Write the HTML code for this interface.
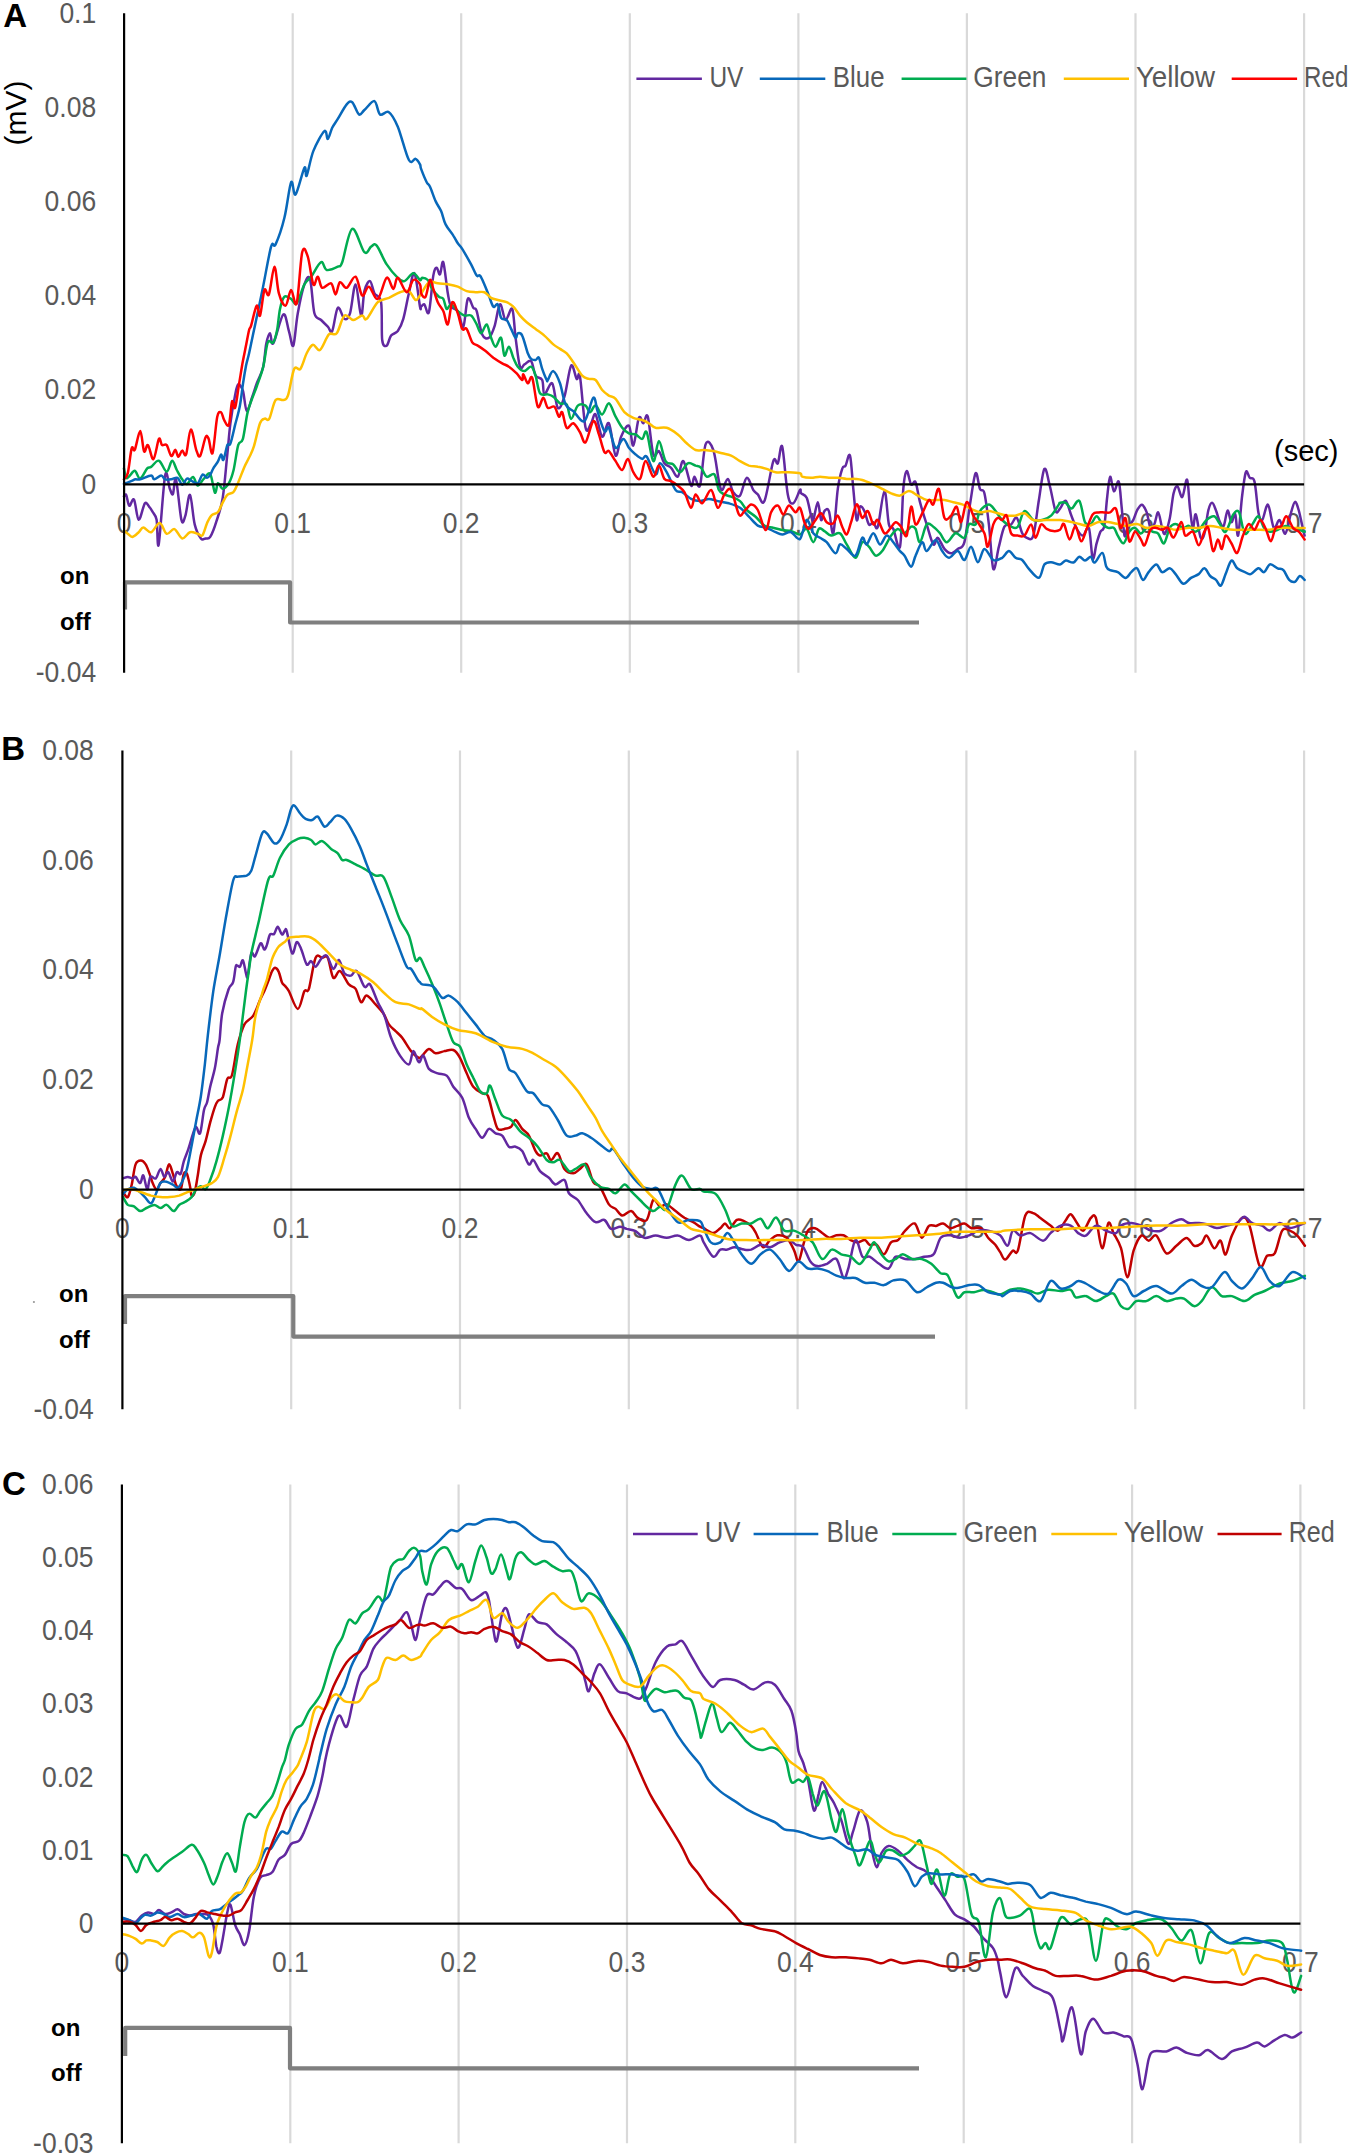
<!DOCTYPE html><html><head><meta charset="utf-8"><style>html,body{margin:0;padding:0;background:#fff;}svg{display:block;}</style></head><body>
<svg width="1350" height="2156" viewBox="0 0 1350 2156" font-family='"Liberation Sans", sans-serif'>
<rect width="1350" height="2156" fill="#fff"/>
<line x1="292.7" y1="13.3" x2="292.7" y2="672.7" stroke="#D9D9D9" stroke-width="2.2"/>
<line x1="461.2" y1="13.3" x2="461.2" y2="672.7" stroke="#D9D9D9" stroke-width="2.2"/>
<line x1="629.8" y1="13.3" x2="629.8" y2="672.7" stroke="#D9D9D9" stroke-width="2.2"/>
<line x1="798.4" y1="13.3" x2="798.4" y2="672.7" stroke="#D9D9D9" stroke-width="2.2"/>
<line x1="966.9" y1="13.3" x2="966.9" y2="672.7" stroke="#D9D9D9" stroke-width="2.2"/>
<line x1="1135.5" y1="13.3" x2="1135.5" y2="672.7" stroke="#D9D9D9" stroke-width="2.2"/>
<line x1="1304.1" y1="13.3" x2="1304.1" y2="672.7" stroke="#D9D9D9" stroke-width="2.2"/>
<text x="96.2" y="22.6" text-anchor="end" font-size="28.8" fill="#595959" textLength="36.8" lengthAdjust="spacingAndGlyphs">0.1</text>
<text x="96.2" y="116.8" text-anchor="end" font-size="28.8" fill="#595959" textLength="51.6" lengthAdjust="spacingAndGlyphs">0.08</text>
<text x="96.2" y="211.0" text-anchor="end" font-size="28.8" fill="#595959" textLength="51.6" lengthAdjust="spacingAndGlyphs">0.06</text>
<text x="96.2" y="305.2" text-anchor="end" font-size="28.8" fill="#595959" textLength="51.6" lengthAdjust="spacingAndGlyphs">0.04</text>
<text x="96.2" y="399.4" text-anchor="end" font-size="28.8" fill="#595959" textLength="51.6" lengthAdjust="spacingAndGlyphs">0.02</text>
<text x="96.2" y="493.6" text-anchor="end" font-size="28.8" fill="#595959" textLength="14.7" lengthAdjust="spacingAndGlyphs">0</text>
<text x="96.2" y="682.0" text-anchor="end" font-size="28.8" fill="#595959" textLength="60.4" lengthAdjust="spacingAndGlyphs">-0.04</text>
<text x="124.1" y="532.8" text-anchor="middle" font-size="28.8" fill="#595959" textLength="14.7" lengthAdjust="spacingAndGlyphs">0</text>
<text x="292.7" y="532.8" text-anchor="middle" font-size="28.8" fill="#595959" textLength="36.8" lengthAdjust="spacingAndGlyphs">0.1</text>
<text x="461.2" y="532.8" text-anchor="middle" font-size="28.8" fill="#595959" textLength="36.8" lengthAdjust="spacingAndGlyphs">0.2</text>
<text x="629.8" y="532.8" text-anchor="middle" font-size="28.8" fill="#595959" textLength="36.8" lengthAdjust="spacingAndGlyphs">0.3</text>
<text x="798.4" y="532.8" text-anchor="middle" font-size="28.8" fill="#595959" textLength="36.8" lengthAdjust="spacingAndGlyphs">0.4</text>
<text x="966.9" y="532.8" text-anchor="middle" font-size="28.8" fill="#595959" textLength="36.8" lengthAdjust="spacingAndGlyphs">0.5</text>
<text x="1135.5" y="532.8" text-anchor="middle" font-size="28.8" fill="#595959" textLength="36.8" lengthAdjust="spacingAndGlyphs">0.6</text>
<text x="1304.1" y="532.8" text-anchor="middle" font-size="28.8" fill="#595959" textLength="36.8" lengthAdjust="spacingAndGlyphs">0.7</text>
<text x="3.3" y="27.4" font-size="33" font-weight="bold" fill="#000">A</text>
<path d="M125.0,609.4 V582.3 H290.1 V622.5 H919.0" fill="none" stroke="#7F7F7F" stroke-width="4.2" stroke-linejoin="round"/>
<text x="60.0" y="584.4" font-size="24" font-weight="bold" fill="#000">on</text>
<text x="60.0" y="630.2" font-size="24" font-weight="bold" fill="#000">off</text>
<line x1="636.4" y1="78.8" x2="701.9" y2="78.8" stroke="#6228A0" stroke-width="2.5"/>
<text x="709.4" y="87.2" font-size="28.8" fill="#595959" textLength="34.0" lengthAdjust="spacingAndGlyphs">UV</text>
<line x1="759.8" y1="78.8" x2="825.3" y2="78.8" stroke="#0868BA" stroke-width="2.5"/>
<text x="832.8" y="87.2" font-size="28.8" fill="#595959" textLength="51.7" lengthAdjust="spacingAndGlyphs">Blue</text>
<line x1="901.6" y1="78.8" x2="966.4" y2="78.8" stroke="#00AC50" stroke-width="2.5"/>
<text x="973.3" y="87.2" font-size="28.8" fill="#595959" textLength="73.1" lengthAdjust="spacingAndGlyphs">Green</text>
<line x1="1063.8" y1="78.8" x2="1129.0" y2="78.8" stroke="#FFC000" stroke-width="2.5"/>
<text x="1135.9" y="87.2" font-size="28.8" fill="#595959" textLength="79.1" lengthAdjust="spacingAndGlyphs">Yellow</text>
<line x1="1231.7" y1="78.8" x2="1297.1" y2="78.8" stroke="#FF0000" stroke-width="2.5"/>
<text x="1304.1" y="87.2" font-size="28.8" fill="#595959" textLength="44.2" lengthAdjust="spacingAndGlyphs">Red</text>
<text x="1274" y="461" font-size="29" fill="#000">(sec)</text>
<text transform="translate(26.1,113) rotate(-90)" text-anchor="middle" font-size="30" fill="#000">(mV)</text>
<path d="M123.9,496.4C124.3,496.2 125.3,493.3 126.2,494.9C127.1,496.4 128.0,505.0 129.3,505.8C130.6,506.6 132.4,497.2 134.0,499.6C135.6,501.9 136.9,519.1 138.7,519.8C140.5,520.4 143.1,505.5 144.9,503.4C146.7,501.4 148.3,505.9 149.6,507.3C150.9,508.8 151.5,509.9 152.7,512.0C153.8,514.1 155.5,514.4 156.6,519.8C157.6,525.2 157.3,551.7 158.7,544.4C160.2,537.0 163.3,484.7 165.1,475.4C167.0,466.2 168.5,485.6 169.8,488.7C171.1,491.8 171.9,495.7 172.9,494.1C173.9,492.6 174.6,475.1 176.0,479.3C177.4,483.6 179.9,513.7 181.4,519.8C183.0,525.9 183.9,520.0 185.3,515.9C186.8,511.7 188.4,493.5 190.0,494.9C191.6,496.3 192.9,517.2 194.7,524.4C196.5,531.7 199.1,536.1 200.9,538.4C202.7,540.8 204.0,538.7 205.6,538.4C207.1,538.2 208.4,539.7 210.2,536.9C212.0,534.0 214.4,527.8 216.4,521.3C218.5,514.9 220.9,509.1 222.7,498.0C224.5,486.9 226.0,466.9 227.3,454.4C228.6,442.0 229.1,433.2 230.4,423.3C231.7,413.5 233.8,401.8 235.1,395.3C236.4,388.9 236.9,385.2 238.2,384.4C239.5,383.7 241.5,386.3 242.9,390.7C244.3,395.1 245.2,409.9 246.8,410.9C248.3,411.9 250.5,401.6 252.2,396.9C253.9,392.2 255.1,387.8 256.9,382.9C258.7,378.0 261.6,373.8 263.1,367.3C264.7,360.9 265.1,349.7 266.2,344.0C267.4,338.3 268.8,333.4 270.0,333.3C271.2,333.2 271.1,346.5 273.3,343.3C275.6,340.2 280.7,316.5 283.3,314.4C285.9,312.4 287.2,325.9 288.9,331.1C290.6,336.3 291.9,348.5 293.3,345.6C294.8,342.6 295.9,323.5 297.8,313.3C299.6,303.1 302.4,290.2 304.4,284.4C306.5,278.7 308.3,274.1 310.0,278.9C311.7,283.7 312.6,306.5 314.4,313.3C316.3,320.2 318.9,317.8 321.1,320.0C323.3,322.2 325.9,324.8 327.8,326.7C329.6,328.5 330.6,334.3 332.2,331.1C333.9,328.0 335.7,309.8 337.8,307.8C339.8,305.7 342.4,318.0 344.4,318.9C346.5,319.8 348.1,319.1 350.0,313.3C351.9,307.6 353.7,284.1 355.6,284.4C357.4,284.8 359.6,314.4 361.1,315.6C362.6,316.7 363.0,296.9 364.4,291.1C365.9,285.4 368.3,280.7 370.0,281.1C371.7,281.5 372.6,289.8 374.4,293.3C376.3,296.9 379.8,294.4 381.1,302.2C382.4,310.0 381.3,332.8 382.2,340.0C383.1,347.2 385.2,346.3 386.7,345.6C388.1,344.8 389.3,338.0 391.1,335.6C393.0,333.1 395.7,333.9 397.8,331.1C399.8,328.3 401.5,325.2 403.3,318.9C405.2,312.6 407.0,300.9 408.9,293.3C410.7,285.7 412.6,271.1 414.4,273.3C416.3,275.6 418.9,301.1 420.0,306.7C421.1,312.2 420.4,307.0 421.1,306.7C421.9,306.3 423.1,303.5 424.4,304.4C425.7,305.4 427.4,317.0 428.9,312.2C430.4,307.4 432.0,283.0 433.3,275.6C434.6,268.1 435.6,268.0 436.7,267.8C437.8,267.6 438.9,275.4 440.0,274.4C441.1,273.5 442.0,259.1 443.3,262.2C444.6,265.4 446.5,285.9 447.8,293.3C449.1,300.7 449.4,303.7 451.1,306.7C452.8,309.6 455.7,307.8 457.8,311.1C459.8,314.4 461.7,328.7 463.3,326.7C465.0,324.6 466.1,302.0 467.8,298.9C469.4,295.7 471.9,305.7 473.3,307.8C474.8,309.8 475.2,306.7 476.7,311.1C478.1,315.6 480.2,330.0 482.2,334.4C484.3,338.9 486.9,339.1 488.9,337.8C490.9,336.5 492.6,332.2 494.4,326.7C496.3,321.1 498.1,305.6 500.0,304.4C501.9,303.3 503.5,319.3 505.6,320.0C507.6,320.7 510.6,305.9 512.2,308.9C513.9,311.9 514.3,328.1 515.6,337.8C516.9,347.4 518.5,362.2 520.0,366.7C521.5,371.1 522.6,365.4 524.4,364.4C526.3,363.5 529.3,359.3 531.1,361.1C533.0,363.0 533.7,372.4 535.6,375.6C537.4,378.7 540.7,376.9 542.2,380.0C543.7,383.1 542.8,393.9 544.4,394.4C546.1,395.0 550.0,381.1 552.2,383.3C554.4,385.6 555.7,405.6 557.8,407.8C559.8,410.0 562.2,403.7 564.4,396.7C566.7,389.6 569.1,368.5 571.1,365.6C573.1,362.6 575.2,377.0 576.7,378.9C578.1,380.7 578.5,368.5 580.0,376.7C581.5,384.8 583.7,420.0 585.6,427.8C587.4,435.6 589.4,425.6 591.1,423.3C592.8,421.1 593.7,412.2 595.6,414.4C597.4,416.7 600.0,435.2 602.2,436.7C604.4,438.1 606.7,420.2 608.9,423.3C611.1,426.5 613.5,453.3 615.6,455.6C617.6,457.8 618.9,441.7 621.1,436.7C623.3,431.7 626.9,424.1 628.9,425.6C630.9,427.0 631.7,446.9 633.3,445.6C635.0,444.3 637.2,421.5 638.9,417.8C640.6,414.1 641.9,423.5 643.3,423.3C644.8,423.1 646.1,411.5 647.8,416.7C649.4,421.9 651.5,448.7 653.3,454.4C655.2,460.2 657.0,449.6 658.9,451.1C660.7,452.6 662.4,460.6 664.4,463.3C666.5,466.1 668.9,465.6 671.1,467.8C673.3,470.0 675.7,477.8 677.8,476.7C679.8,475.6 681.1,459.6 683.3,461.1C685.6,462.6 689.3,483.0 691.1,485.6C693.0,488.1 693.0,476.7 694.4,476.7C695.9,476.7 698.1,490.9 700.0,485.6C701.9,480.2 703.3,450.4 705.6,444.4C707.8,438.5 711.1,443.9 713.3,450.0C715.6,456.1 717.4,474.4 718.9,481.1C720.4,487.8 720.7,490.4 722.2,490.0C723.7,489.6 725.9,478.5 727.8,478.9C729.6,479.3 731.3,489.4 733.3,492.2C735.4,495.0 737.8,498.0 740.0,495.6C742.2,493.1 744.4,478.7 746.7,477.8C748.9,476.9 751.5,487.2 753.3,490.0C755.2,492.8 755.9,492.6 757.8,494.4C759.6,496.3 761.9,506.7 764.4,501.1C767.0,495.6 771.1,467.4 773.3,461.1C775.6,454.8 776.3,465.7 777.8,463.3C779.3,460.9 780.6,441.5 782.2,446.7C783.9,451.9 785.9,485.0 787.8,494.4C789.6,503.9 791.3,504.1 793.3,503.3C795.4,502.6 798.7,491.7 800.0,490.0C801.3,488.3 800.0,492.0 801.1,493.3C802.2,494.6 805.0,494.1 806.7,497.8C808.3,501.5 810.0,511.9 811.1,515.6C812.2,519.3 812.2,522.2 813.3,520.0C814.4,517.8 816.5,502.2 817.8,502.2C819.1,502.2 820.0,518.5 821.1,520.0C822.2,521.5 823.1,512.6 824.4,511.1C825.7,509.6 827.4,507.4 828.9,511.1C830.4,514.8 831.9,537.0 833.3,533.3C834.8,529.6 836.3,499.6 837.8,488.9C839.3,478.1 840.9,472.8 842.2,468.9C843.5,465.0 844.3,467.8 845.6,465.6C846.9,463.3 848.7,451.7 850.0,455.6C851.3,459.4 852.2,478.1 853.3,488.9C854.4,499.6 855.6,517.0 856.7,520.0C857.8,523.0 858.7,508.1 860.0,506.7C861.3,505.2 863.0,508.1 864.4,511.1C865.9,514.1 867.4,522.6 868.9,524.4C870.4,526.3 871.9,521.9 873.3,522.2C874.8,522.6 875.9,531.9 877.8,526.7C879.6,521.5 882.6,491.5 884.4,491.1C886.3,490.7 887.4,518.1 888.9,524.4C890.4,530.7 891.5,525.2 893.3,528.9C895.2,532.6 898.3,553.3 900.0,546.7C901.7,540.0 902.2,501.5 903.3,488.9C904.4,476.3 905.4,471.9 906.7,471.1C908.0,470.4 909.6,482.6 911.1,484.4C912.6,486.3 914.1,479.3 915.6,482.2C917.0,485.2 918.1,495.2 920.0,502.2C921.9,509.3 924.4,517.4 926.7,524.4C928.9,531.5 931.5,542.2 933.3,544.4C935.2,546.7 935.9,537.0 937.8,537.8C939.6,538.5 942.2,546.3 944.4,548.9C946.7,551.5 948.9,553.3 951.1,553.3C953.3,553.3 955.6,550.7 957.8,548.9C960.0,547.0 962.4,549.6 964.4,542.2C966.5,534.8 968.1,515.9 970.0,504.4C971.9,493.0 973.9,475.9 975.6,473.3C977.2,470.7 978.5,485.6 980.0,488.9C981.5,492.2 983.0,487.4 984.4,493.3C985.9,499.3 987.4,511.9 988.9,524.4C990.4,537.0 991.7,565.2 993.3,568.9C995.0,572.6 997.0,553.7 998.9,546.7C1000.7,539.6 1002.4,530.4 1004.4,526.7C1006.5,523.0 1009.1,525.9 1011.1,524.4C1013.1,523.0 1014.8,516.3 1016.7,517.8C1018.5,519.3 1020.6,530.0 1022.2,533.3C1023.9,536.7 1024.8,537.4 1026.7,537.8C1028.5,538.1 1031.3,541.9 1033.3,535.6C1035.4,529.3 1037.0,511.1 1038.9,500.0C1040.7,488.9 1042.6,471.1 1044.4,468.9C1046.3,466.7 1048.1,479.6 1050.0,486.7C1051.9,493.7 1053.9,507.5 1055.6,511.1C1057.2,514.8 1058.3,510.3 1060.0,508.6C1061.7,506.9 1063.9,499.6 1065.8,500.9C1067.7,502.2 1069.6,511.5 1071.6,516.3C1073.5,521.1 1075.4,526.6 1077.3,529.8C1079.3,533.0 1081.2,535.9 1083.1,535.6C1085.0,535.2 1087.3,524.0 1088.9,527.9C1090.5,531.7 1091.5,556.1 1092.7,558.7C1094.0,561.2 1095.3,547.8 1096.6,543.3C1097.9,538.8 1099.2,534.6 1100.4,531.7C1101.7,528.8 1103.2,531.7 1104.3,525.9C1105.4,520.1 1106.2,505.2 1107.2,497.0C1108.1,488.9 1109.0,477.8 1110.1,476.8C1111.2,475.9 1112.5,490.5 1113.9,491.3C1115.4,492.1 1117.5,479.1 1118.7,481.6C1120.0,484.2 1120.7,497.7 1121.6,506.7C1122.6,515.7 1123.6,532.0 1124.5,535.6C1125.5,539.1 1126.0,530.4 1127.4,527.9C1128.9,525.3 1131.6,523.0 1133.2,520.1C1134.8,517.3 1135.6,513.1 1137.0,510.5C1138.5,508.0 1140.2,504.4 1141.9,504.7C1143.5,505.1 1145.2,508.6 1146.7,512.4C1148.1,516.3 1149.2,525.9 1150.5,527.9C1151.8,529.8 1153.1,526.6 1154.4,524.0C1155.7,521.4 1156.9,511.8 1158.2,512.4C1159.5,513.1 1161.0,524.3 1162.1,527.9C1163.2,531.4 1163.7,535.2 1165.0,533.6C1166.2,532.0 1168.3,525.0 1169.8,518.2C1171.2,511.5 1172.3,498.5 1173.6,493.2C1174.9,487.9 1176.0,485.8 1177.5,486.4C1178.9,487.1 1180.7,498.2 1182.3,497.0C1183.9,495.9 1185.8,477.8 1187.1,479.7C1188.4,481.6 1189.0,500.6 1190.0,508.6C1191.0,516.6 1191.9,526.9 1192.9,527.9C1193.9,528.8 1194.5,512.8 1195.8,514.4C1197.1,516.0 1199.1,534.3 1200.6,537.5C1202.0,540.7 1203.2,538.1 1204.4,533.6C1205.7,529.1 1207.0,515.7 1208.3,510.5C1209.6,505.4 1210.9,502.8 1212.1,502.8C1213.4,502.8 1214.7,507.3 1216.0,510.5C1217.3,513.7 1218.6,519.5 1219.9,522.1C1221.1,524.6 1222.4,527.9 1223.7,525.9C1225.0,524.0 1226.3,511.2 1227.6,510.5C1228.8,509.9 1230.1,521.4 1231.4,522.1C1232.7,522.7 1234.1,512.1 1235.3,514.4C1236.4,516.6 1237.0,538.4 1238.1,535.6C1239.3,532.7 1240.7,507.6 1242.0,497.0C1243.3,486.4 1244.6,475.2 1245.9,472.0C1247.1,468.8 1248.3,476.2 1249.7,477.8C1251.1,479.4 1253.1,475.9 1254.5,481.6C1256.0,487.4 1257.1,506.0 1258.4,512.4C1259.7,518.9 1260.6,521.4 1262.2,520.1C1263.8,518.9 1266.1,503.5 1268.0,504.7C1269.9,506.0 1271.9,525.3 1273.8,527.9C1275.7,530.4 1277.6,519.2 1279.6,520.1C1281.5,521.1 1283.4,534.9 1285.3,533.6C1287.3,532.3 1289.5,517.7 1291.1,512.4C1292.7,507.1 1293.7,502.2 1295.0,501.9C1296.2,501.5 1297.5,506.2 1298.8,510.5C1300.1,514.9 1301.7,523.7 1302.7,527.9C1303.6,532.0 1304.3,534.3 1304.6,535.6" fill="none" stroke="#6228A0" stroke-width="2.5" stroke-linejoin="round" stroke-linecap="round"/>
<path d="M123.9,468.4C124.3,470.0 125.3,476.5 126.2,477.8C127.1,479.1 127.9,477.4 129.3,476.2C130.8,475.1 133.0,470.4 134.8,470.8C136.6,471.2 138.1,478.9 140.2,478.6C142.3,478.2 145.4,470.4 147.2,468.4C149.0,466.5 149.2,468.2 151.1,466.9C153.1,465.6 156.3,459.9 158.9,460.7C161.5,461.4 164.5,471.6 166.7,471.6C168.9,471.6 170.4,460.9 172.1,460.7C173.8,460.4 175.1,466.9 176.8,470.0C178.5,473.1 180.5,477.0 182.2,479.3C183.9,481.7 185.1,484.4 186.9,484.0C188.7,483.6 191.3,476.7 193.1,477.0C194.9,477.3 196.0,485.3 197.8,485.6C199.6,485.8 201.9,480.5 204.0,478.6C206.1,476.6 208.4,471.6 210.2,473.9C212.0,476.2 213.6,491.0 214.9,492.6C216.2,494.1 216.7,483.9 218.0,483.2C219.3,482.6 220.9,488.7 222.7,488.7C224.5,488.7 227.1,486.3 228.9,483.2C230.7,480.1 232.0,476.4 233.6,470.0C235.1,463.6 236.7,450.3 238.2,445.1C239.8,439.9 241.3,444.3 242.9,438.9C244.4,433.4 246.0,419.2 247.6,412.4C249.1,405.7 250.7,402.9 252.2,398.4C253.8,394.0 255.1,391.2 256.9,386.0C258.7,380.8 261.3,374.6 263.1,367.3C264.9,360.1 266.1,346.6 267.8,342.4C269.5,338.3 271.7,344.5 273.2,342.4C274.8,340.4 276.0,335.6 277.1,330.0C278.2,324.4 278.8,314.4 280.0,308.9C281.2,303.3 282.6,298.3 284.4,296.7C286.3,295.0 289.1,297.8 291.1,298.9C293.1,300.0 294.4,305.7 296.7,303.3C298.9,300.9 302.0,288.9 304.4,284.4C306.9,280.0 308.3,280.4 311.1,276.7C313.9,273.0 318.5,263.3 321.1,262.2C323.7,261.1 323.9,269.3 326.7,270.0C329.4,270.7 335.2,268.0 337.8,266.7C340.4,265.4 339.8,268.5 342.2,262.2C344.6,255.9 348.5,230.6 352.2,228.9C355.9,227.2 361.3,249.3 364.4,252.2C367.6,255.2 369.1,247.8 371.1,246.7C373.1,245.6 374.1,242.6 376.7,245.6C379.3,248.5 383.1,259.1 386.7,264.4C390.2,269.8 394.8,275.0 397.8,277.8C400.7,280.6 401.9,281.9 404.4,281.1C407.0,280.4 410.7,273.5 413.3,273.3C415.9,273.1 418.5,279.3 420.0,280.0C421.5,280.7 420.9,277.8 422.2,277.8C423.5,277.8 426.1,278.1 427.8,280.0C429.4,281.9 430.4,286.1 432.2,288.9C434.1,291.7 437.0,295.0 438.9,296.7C440.7,298.3 442.0,296.9 443.3,298.9C444.6,300.9 445.4,308.0 446.7,308.9C448.0,309.8 449.3,304.1 451.1,304.4C453.0,304.8 455.6,309.3 457.8,311.1C460.0,313.0 462.2,314.8 464.4,315.6C466.7,316.3 469.1,314.1 471.1,315.6C473.1,317.0 475.0,321.5 476.7,324.4C478.3,327.4 479.4,333.3 481.1,333.3C482.8,333.3 485.0,323.7 486.7,324.4C488.3,325.2 489.6,334.1 491.1,337.8C492.6,341.5 493.9,346.7 495.6,346.7C497.2,346.7 499.6,336.3 501.1,337.8C502.6,339.3 503.1,354.1 504.4,355.6C505.7,357.0 507.4,346.3 508.9,346.7C510.4,347.0 511.9,354.4 513.3,357.8C514.8,361.1 515.9,364.4 517.8,366.7C519.6,368.9 522.2,371.1 524.4,371.1C526.7,371.1 529.3,365.9 531.1,366.7C533.0,367.4 534.1,371.1 535.6,375.6C537.0,380.0 538.0,390.2 540.0,393.3C542.0,396.5 545.6,393.9 547.8,394.4C550.0,395.0 551.3,395.2 553.3,396.7C555.4,398.1 557.8,402.0 560.0,403.3C562.2,404.6 564.8,401.9 566.7,404.4C568.5,407.0 569.3,418.7 571.1,418.9C573.0,419.1 575.4,407.8 577.8,405.6C580.2,403.3 583.5,404.4 585.6,405.6C587.6,406.7 588.3,412.2 590.0,412.2C591.7,412.2 593.5,405.2 595.6,405.6C597.6,405.9 600.0,414.8 602.2,414.4C604.4,414.1 606.7,403.0 608.9,403.3C611.1,403.7 613.3,412.6 615.6,416.7C617.8,420.7 620.0,425.0 622.2,427.8C624.4,430.6 626.7,432.2 628.9,433.3C631.1,434.4 633.3,433.5 635.6,434.4C637.8,435.4 640.4,439.3 642.2,438.9C644.1,438.5 644.8,428.5 646.7,432.2C648.5,435.9 651.3,459.6 653.3,461.1C655.4,462.6 656.9,441.1 658.9,441.1C660.9,441.1 663.1,457.2 665.6,461.1C668.0,465.0 670.9,462.6 673.3,464.4C675.7,466.3 677.6,472.4 680.0,472.2C682.4,472.0 685.2,464.4 687.8,463.3C690.4,462.2 693.3,464.8 695.6,465.6C697.8,466.3 699.3,465.9 701.1,467.8C703.0,469.6 704.4,475.6 706.7,476.7C708.9,477.8 712.4,472.2 714.4,474.4C716.5,476.7 717.2,486.7 718.9,490.0C720.6,493.3 722.4,493.3 724.4,494.4C726.5,495.6 728.5,495.6 731.1,496.7C733.7,497.8 737.4,498.9 740.0,501.1C742.6,503.3 744.1,507.4 746.7,510.0C749.3,512.6 752.6,514.1 755.6,516.7C758.5,519.3 761.5,523.7 764.4,525.6C767.4,527.4 770.4,527.0 773.3,527.8C776.3,528.5 779.3,529.4 782.2,530.0C785.2,530.6 788.1,530.4 791.1,531.1C794.1,531.9 797.4,534.8 800.0,534.4C802.6,534.1 804.4,527.6 806.7,528.9C808.9,530.2 811.3,542.2 813.3,542.2C815.4,542.2 817.0,530.7 818.9,528.9C820.7,527.0 822.4,530.0 824.4,531.1C826.5,532.2 828.5,535.2 831.1,535.6C833.7,535.9 837.4,531.9 840.0,533.3C842.6,534.8 844.1,540.4 846.7,544.4C849.3,548.5 853.0,558.1 855.6,557.8C858.1,557.4 860.0,544.1 862.2,542.2C864.4,540.4 866.7,544.4 868.9,546.7C871.1,548.9 873.3,554.8 875.6,555.6C877.8,556.3 879.6,554.4 882.2,551.1C884.8,547.8 888.5,539.3 891.1,535.6C893.7,531.9 895.6,529.3 897.8,528.9C900.0,528.5 902.2,533.7 904.4,533.3C906.7,533.0 909.3,527.4 911.1,526.7C913.0,525.9 914.1,526.3 915.6,528.9C917.0,531.5 918.1,543.0 920.0,542.2C921.9,541.5 924.4,527.0 926.7,524.4C928.9,521.9 931.1,525.2 933.3,526.7C935.6,528.1 937.8,530.7 940.0,533.3C942.2,535.9 944.1,542.2 946.7,542.2C949.3,542.2 952.6,534.1 955.6,533.3C958.5,532.6 962.2,539.3 964.4,537.8C966.7,536.3 967.0,526.7 968.9,524.4C970.7,522.2 973.7,526.7 975.6,524.4C977.4,522.2 977.8,514.4 980.0,511.1C982.2,507.8 986.3,504.4 988.9,504.4C991.5,504.4 993.3,508.5 995.6,511.1C997.8,513.7 999.6,517.4 1002.2,520.0C1004.8,522.6 1008.5,525.6 1011.1,526.7C1013.7,527.8 1015.6,529.3 1017.8,526.7C1020.0,524.1 1021.9,512.2 1024.4,511.1C1027.0,510.0 1030.4,518.5 1033.3,520.0C1036.3,521.5 1039.3,520.7 1042.2,520.0C1045.2,519.3 1048.3,518.1 1051.1,515.6C1053.9,513.0 1057.4,506.6 1058.9,504.4C1060.4,502.3 1058.9,503.1 1060.0,502.8C1061.1,502.5 1063.9,501.9 1065.8,502.8C1067.7,503.8 1069.3,508.9 1071.6,508.6C1073.8,508.3 1077.0,498.6 1079.3,500.9C1081.5,503.1 1083.1,518.2 1085.0,522.1C1087.0,525.9 1088.9,525.0 1090.8,524.0C1092.7,523.0 1094.7,516.3 1096.6,516.3C1098.5,516.3 1100.4,522.1 1102.4,524.0C1104.3,525.9 1106.2,527.2 1108.1,527.9C1110.1,528.5 1112.3,526.6 1113.9,527.9C1115.5,529.1 1116.2,533.0 1117.8,535.6C1119.4,538.1 1121.6,543.9 1123.6,543.3C1125.5,542.6 1127.4,534.3 1129.3,531.7C1131.3,529.1 1133.2,527.5 1135.1,527.9C1137.0,528.2 1139.0,533.6 1140.9,533.6C1142.8,533.6 1144.7,528.2 1146.7,527.9C1148.6,527.5 1150.5,530.7 1152.4,531.7C1154.4,532.7 1156.3,531.7 1158.2,533.6C1160.1,535.6 1162.1,544.2 1164.0,543.3C1165.9,542.3 1167.9,531.1 1169.8,527.9C1171.7,524.6 1173.3,524.0 1175.6,524.0C1177.8,524.0 1181.0,527.5 1183.3,527.9C1185.5,528.2 1187.1,525.3 1189.0,525.9C1191.0,526.6 1192.9,531.4 1194.8,531.7C1196.7,532.0 1198.7,529.8 1200.6,527.9C1202.5,525.9 1204.1,522.1 1206.4,520.1C1208.6,518.2 1211.8,515.7 1214.1,516.3C1216.3,516.9 1217.9,521.4 1219.9,524.0C1221.8,526.6 1223.4,533.3 1225.6,531.7C1227.9,530.1 1231.1,517.6 1233.3,514.4C1235.6,511.2 1237.2,509.2 1239.1,512.4C1241.0,515.7 1242.6,531.7 1244.9,533.6C1247.1,535.6 1250.3,526.9 1252.6,524.0C1254.8,521.1 1256.4,515.7 1258.4,516.3C1260.3,516.9 1262.2,525.3 1264.1,527.9C1266.1,530.4 1267.7,531.4 1269.9,531.7C1272.2,532.0 1275.1,530.7 1277.6,529.8C1280.2,528.8 1283.1,526.2 1285.3,525.9C1287.6,525.6 1288.9,527.2 1291.1,527.9C1293.4,528.5 1296.6,529.1 1298.8,529.8C1301.1,530.4 1303.6,531.4 1304.6,531.7" fill="none" stroke="#00AC50" stroke-width="2.5" stroke-linejoin="round" stroke-linecap="round"/>
<path d="M123.9,484.0C125.2,483.5 129.7,481.7 131.7,480.9C133.6,480.1 134.1,479.6 135.6,479.3C137.0,479.1 137.6,480.0 140.2,479.3C142.8,478.7 148.8,475.4 151.1,475.4C153.4,475.4 152.5,479.3 154.2,479.3C155.9,479.3 159.4,475.4 161.2,475.4C163.0,475.4 163.4,478.7 165.1,479.3C166.8,480.0 169.3,479.6 171.3,479.3C173.4,479.1 175.7,476.9 177.6,477.8C179.4,478.7 180.7,484.6 182.2,484.8C183.8,484.9 185.3,479.2 186.9,478.6C188.4,477.9 189.7,480.1 191.6,480.9C193.4,481.7 196.0,484.3 197.8,483.2C199.6,482.2 200.9,475.6 202.4,474.7C204.0,473.8 205.8,477.8 207.1,477.8C208.4,477.8 209.2,476.2 210.2,474.7C211.3,473.1 212.0,470.6 213.3,468.4C214.6,466.2 216.7,463.8 218.0,461.4C219.3,459.1 220.2,454.7 221.1,454.4C222.0,454.2 222.4,461.4 223.4,459.9C224.5,458.3 226.2,447.8 227.3,445.1C228.5,442.4 229.1,446.9 230.4,443.6C231.7,440.2 233.6,431.1 235.1,424.9C236.7,418.7 238.5,413.0 239.8,406.2C241.1,399.5 241.9,391.2 242.9,384.4C243.9,377.7 245.0,371.0 246.0,365.8C247.0,360.6 247.9,358.7 249.1,353.3C250.3,347.9 251.1,343.7 253.3,333.3C255.5,323.0 259.3,305.6 262.2,291.1C265.2,276.7 268.9,254.4 271.1,246.7C273.3,238.9 273.3,249.3 275.6,244.4C277.8,239.6 281.9,228.1 284.4,217.8C287.0,207.4 289.3,186.1 291.1,182.2C293.0,178.3 293.3,196.9 295.6,194.4C297.8,192.0 302.6,170.9 304.4,167.8C306.3,164.6 305.2,178.3 306.7,175.6C308.1,172.8 310.4,158.5 313.3,151.1C316.3,143.7 322.0,133.1 324.4,131.1C326.9,129.1 326.5,139.4 327.8,138.9C329.1,138.3 330.6,131.1 332.2,127.8C333.9,124.4 335.4,122.8 337.8,118.9C340.2,115.0 344.3,107.2 346.7,104.4C349.1,101.7 350.2,100.6 352.2,102.2C354.3,103.9 356.9,113.1 358.9,114.4C360.9,115.7 361.9,112.2 364.4,110.0C367.0,107.8 371.9,100.4 374.4,101.1C377.0,101.9 377.6,112.6 380.0,114.4C382.4,116.3 385.9,110.2 388.9,112.2C391.9,114.3 394.4,118.7 397.8,126.7C401.1,134.6 405.9,154.6 408.9,160.0C411.9,165.4 413.7,158.1 415.6,158.9C417.4,159.6 419.1,162.8 420.0,164.4C420.9,166.1 420.0,165.9 421.1,168.9C422.2,171.9 425.2,179.3 426.7,182.2C428.1,185.2 428.5,183.5 430.0,186.7C431.5,189.8 433.7,197.0 435.6,201.1C437.4,205.2 439.4,207.2 441.1,211.1C442.8,215.0 443.5,220.4 445.6,224.4C447.6,228.5 451.3,232.4 453.3,235.6C455.4,238.7 456.3,241.1 457.8,243.3C459.3,245.6 460.0,245.4 462.2,248.9C464.4,252.4 468.7,260.0 471.1,264.4C473.5,268.9 475.2,273.7 476.7,275.6C478.1,277.4 478.7,274.1 480.0,275.6C481.3,277.0 483.0,281.1 484.4,284.4C485.9,287.8 487.4,291.9 488.9,295.6C490.4,299.3 491.9,305.2 493.3,306.7C494.8,308.1 496.5,302.6 497.8,304.4C499.1,306.3 499.6,315.2 501.1,317.8C502.6,320.4 505.0,318.1 506.7,320.0C508.3,321.9 509.6,325.9 511.1,328.9C512.6,331.9 514.4,337.0 515.6,337.8C516.7,338.5 516.7,333.7 517.8,333.3C518.9,333.0 520.6,332.2 522.2,335.6C523.9,338.9 526.3,349.4 527.8,353.3C529.3,357.2 529.8,357.8 531.1,358.9C532.4,360.0 534.3,360.2 535.6,360.0C536.9,359.8 537.8,356.3 538.9,357.8C540.0,359.3 540.9,365.2 542.2,368.9C543.5,372.6 545.7,378.1 546.7,380.0C547.6,381.9 546.7,381.5 547.8,380.0C548.9,378.5 551.3,370.6 553.3,371.1C555.4,371.7 558.0,377.8 560.0,383.3C562.0,388.9 563.3,399.8 565.6,404.4C567.8,409.1 570.2,408.3 573.3,411.1C576.5,413.9 581.1,423.3 584.4,421.1C587.8,418.9 591.1,399.3 593.3,397.8C595.6,396.3 595.9,406.7 597.8,412.2C599.6,417.8 602.6,428.5 604.4,431.1C606.3,433.7 607.0,425.0 608.9,427.8C610.7,430.6 613.1,445.9 615.6,447.8C618.0,449.6 621.1,438.9 623.3,438.9C625.6,438.9 626.9,445.2 628.9,447.8C630.9,450.4 633.3,452.6 635.6,454.4C637.8,456.3 640.4,458.5 642.2,458.9C644.1,459.3 644.4,454.1 646.7,456.7C648.9,459.3 653.3,473.3 655.6,474.4C657.8,475.6 658.1,463.7 660.0,463.3C661.9,463.0 664.1,467.8 666.7,472.2C669.3,476.7 673.0,486.7 675.6,490.0C678.1,493.3 679.6,490.7 682.2,492.2C684.8,493.7 688.1,497.4 691.1,498.9C694.1,500.4 697.0,501.1 700.0,501.1C703.0,501.1 705.9,498.9 708.9,498.9C711.9,498.9 714.4,500.4 717.8,501.1C721.1,501.9 725.2,502.2 728.9,503.3C732.6,504.4 736.7,505.6 740.0,507.8C743.3,510.0 745.9,513.7 748.9,516.7C751.9,519.6 754.8,523.7 757.8,525.6C760.7,527.4 763.7,526.7 766.7,527.8C769.6,528.9 773.0,531.1 775.6,532.2C778.1,533.3 779.6,534.4 782.2,534.4C784.8,534.4 788.1,531.5 791.1,532.2C794.1,533.0 797.4,540.9 800.0,538.9C802.6,536.9 804.4,520.9 806.7,520.0C808.9,519.1 811.1,530.4 813.3,533.3C815.6,536.3 817.8,536.3 820.0,537.8C822.2,539.3 824.1,539.6 826.7,542.2C829.3,544.8 833.3,553.0 835.6,553.3C837.8,553.7 838.1,545.2 840.0,544.4C841.9,543.7 844.1,547.0 846.7,548.9C849.3,550.7 853.0,557.4 855.6,555.6C858.1,553.7 860.4,539.6 862.2,537.8C864.1,535.9 864.8,545.2 866.7,544.4C868.5,543.7 871.1,533.3 873.3,533.3C875.6,533.3 877.8,544.1 880.0,544.4C882.2,544.8 884.4,535.9 886.7,535.6C888.9,535.2 891.1,539.6 893.3,542.2C895.6,544.8 898.1,548.9 900.0,551.1C901.9,553.3 902.6,553.0 904.4,555.6C906.3,558.1 909.3,566.7 911.1,566.7C913.0,566.7 913.7,559.6 915.6,555.6C917.4,551.5 920.4,543.0 922.2,542.2C924.1,541.5 924.4,551.5 926.7,551.1C928.9,550.7 933.0,540.0 935.6,540.0C938.1,540.0 940.0,548.1 942.2,551.1C944.4,554.1 946.3,557.8 948.9,557.8C951.5,557.8 955.2,550.7 957.8,551.1C960.4,551.5 962.2,560.7 964.4,560.0C966.7,559.3 968.9,546.3 971.1,546.7C973.3,547.0 975.6,561.9 977.8,562.2C980.0,562.6 981.9,549.3 984.4,548.9C987.0,548.5 990.4,558.5 993.3,560.0C996.3,561.5 999.6,559.3 1002.2,557.8C1004.8,556.3 1006.7,551.1 1008.9,551.1C1011.1,551.1 1013.3,556.3 1015.6,557.8C1017.8,559.3 1020.0,558.1 1022.2,560.0C1024.4,561.9 1026.1,565.9 1028.9,568.9C1031.7,571.9 1036.3,578.5 1038.9,577.8C1041.5,577.0 1042.4,567.0 1044.4,564.4C1046.5,561.9 1048.5,562.2 1051.1,562.2C1053.7,562.2 1057.6,564.7 1060.0,564.4C1062.4,564.2 1063.5,560.9 1065.8,560.6C1068.0,560.3 1071.2,563.2 1073.5,562.5C1075.7,561.9 1077.3,557.1 1079.3,556.7C1081.2,556.4 1083.1,560.6 1085.0,560.6C1087.0,560.6 1089.2,556.4 1090.8,556.7C1092.4,557.1 1092.7,563.2 1094.7,562.5C1096.6,561.9 1100.4,552.2 1102.4,552.9C1104.3,553.5 1104.9,563.5 1106.2,566.4C1107.5,569.3 1108.1,569.3 1110.1,570.2C1112.0,571.2 1115.2,570.9 1117.8,572.1C1120.3,573.4 1123.2,577.9 1125.5,577.9C1127.7,577.9 1129.3,573.8 1131.3,572.1C1133.2,570.5 1135.1,567.0 1137.0,568.3C1139.0,569.6 1140.9,579.2 1142.8,579.9C1144.7,580.5 1146.3,574.7 1148.6,572.1C1150.8,569.6 1154.0,564.4 1156.3,564.4C1158.5,564.4 1159.8,571.5 1162.1,572.1C1164.3,572.8 1167.5,568.0 1169.8,568.3C1172.0,568.6 1173.3,571.5 1175.6,574.1C1177.8,576.6 1180.7,583.1 1183.3,583.7C1185.8,584.3 1188.4,579.5 1191.0,577.9C1193.5,576.3 1196.4,575.7 1198.7,574.1C1200.9,572.5 1202.5,568.0 1204.4,568.3C1206.4,568.6 1208.3,574.1 1210.2,576.0C1212.1,577.9 1214.2,578.2 1216.0,579.9C1217.8,581.5 1219.2,586.6 1220.8,585.6C1222.4,584.7 1223.9,578.2 1225.6,574.1C1227.4,569.9 1229.5,561.6 1231.4,560.6C1233.3,559.6 1234.9,566.4 1237.2,568.3C1239.4,570.2 1242.6,571.2 1244.9,572.1C1247.1,573.1 1248.4,574.7 1250.7,574.1C1252.9,573.4 1256.1,568.6 1258.4,568.3C1260.6,568.0 1262.2,572.8 1264.1,572.1C1266.1,571.5 1267.7,565.1 1269.9,564.4C1272.2,563.8 1275.4,567.3 1277.6,568.3C1279.9,569.3 1281.5,568.3 1283.4,570.2C1285.3,572.1 1287.3,577.9 1289.2,579.9C1291.1,581.8 1293.2,582.4 1295.0,581.8C1296.7,581.1 1298.2,576.3 1299.8,576.0C1301.4,575.7 1303.8,579.2 1304.6,579.9" fill="none" stroke="#0868BA" stroke-width="2.5" stroke-linejoin="round" stroke-linecap="round"/>
<path d="M123.9,530.7C124.5,531.2 126.4,532.7 127.8,533.8C129.2,534.8 130.6,537.1 132.4,536.9C134.3,536.6 136.9,533.8 138.7,532.2C140.5,530.7 141.3,527.6 143.3,527.6C145.4,527.6 148.4,533.0 151.1,532.2C153.8,531.4 157.1,522.6 159.7,522.9C162.3,523.1 164.2,532.7 166.7,533.8C169.1,534.8 171.9,528.3 174.4,529.1C177.0,529.9 179.6,537.9 182.2,538.4C184.8,539.0 187.4,533.0 190.0,532.2C192.6,531.4 195.7,533.3 197.8,533.8C199.9,534.3 200.9,537.1 202.4,535.3C204.0,533.5 205.6,526.3 207.1,522.9C208.7,519.5 210.0,516.9 211.8,515.1C213.6,513.3 216.2,514.1 218.0,512.0C219.8,509.9 221.1,505.5 222.7,502.7C224.2,499.8 225.5,496.7 227.3,494.9C229.1,493.1 231.7,493.9 233.6,491.8C235.4,489.7 236.4,486.6 238.2,482.4C240.0,478.3 242.6,471.0 244.4,466.9C246.3,462.7 247.6,460.9 249.1,457.6C250.7,454.2 252.0,452.4 253.8,446.7C255.6,441.0 258.2,428.0 260.0,423.3C261.8,418.7 263.1,419.4 264.7,418.7C266.2,417.9 267.5,421.8 269.3,418.7C271.1,415.6 273.2,403.1 275.6,400.0C277.9,396.9 281.3,400.8 283.3,400.0C285.4,399.2 286.2,400.5 288.0,395.3C289.8,390.1 292.1,373.3 294.2,368.9C296.3,364.5 298.4,371.5 300.4,368.9C302.5,366.3 304.6,357.4 306.7,353.3C308.7,349.3 310.7,345.3 312.9,344.8C315.1,344.2 317.3,351.7 320.0,350.0C322.7,348.3 326.1,337.2 328.9,334.4C331.7,331.7 334.1,336.5 336.7,333.3C339.3,330.2 341.7,317.8 344.4,315.6C347.2,313.3 350.4,320.0 353.3,320.0C356.3,320.0 360.0,315.7 362.2,315.6C364.4,315.4 364.1,321.1 366.7,318.9C369.3,316.7 374.1,305.7 377.8,302.2C381.5,298.7 385.2,299.4 388.9,297.8C392.6,296.1 396.7,293.3 400.0,292.2C403.3,291.1 406.3,289.8 408.9,291.1C411.5,292.4 413.7,299.3 415.6,300.0C417.4,300.7 417.8,298.5 420.0,295.6C422.2,292.6 425.9,284.3 428.9,282.2C431.9,280.2 434.4,283.0 437.8,283.3C441.1,283.7 445.6,283.9 448.9,284.4C452.2,285.0 454.8,285.6 457.8,286.7C460.7,287.8 463.7,290.2 466.7,291.1C469.6,292.0 472.6,292.0 475.6,292.2C478.5,292.4 481.9,291.3 484.4,292.2C487.0,293.1 488.9,296.5 491.1,297.8C493.3,299.1 495.2,299.3 497.8,300.0C500.4,300.7 504.1,301.1 506.7,302.2C509.3,303.3 511.1,304.4 513.3,306.7C515.6,308.9 517.8,313.0 520.0,315.6C522.2,318.1 524.1,320.0 526.7,322.2C529.3,324.4 532.6,326.7 535.6,328.9C538.5,331.1 541.5,333.0 544.4,335.6C547.4,338.1 550.7,342.2 553.3,344.4C555.9,346.7 557.8,347.4 560.0,348.9C562.2,350.4 564.4,351.1 566.7,353.3C568.9,355.6 570.7,358.5 573.3,362.2C575.9,365.9 579.6,372.8 582.2,375.6C584.8,378.3 586.7,378.1 588.9,378.9C591.1,379.6 593.3,378.1 595.6,380.0C597.8,381.9 600.0,387.4 602.2,390.0C604.4,392.6 606.7,394.1 608.9,395.6C611.1,397.0 613.0,396.1 615.6,398.9C618.1,401.7 621.5,409.1 624.4,412.2C627.4,415.4 630.4,416.5 633.3,417.8C636.3,419.1 639.6,419.1 642.2,420.0C644.8,420.9 646.7,422.0 648.9,423.3C651.1,424.6 652.6,427.0 655.6,427.8C658.5,428.5 663.0,426.7 666.7,427.8C670.4,428.9 674.4,431.9 677.8,434.4C681.1,437.0 683.7,440.7 686.7,443.3C689.6,445.9 692.6,448.9 695.6,450.0C698.5,451.1 701.5,449.8 704.4,450.0C707.4,450.2 710.4,450.6 713.3,451.1C716.3,451.7 719.3,452.6 722.2,453.3C725.2,454.1 728.1,454.3 731.1,455.6C734.1,456.9 737.0,459.4 740.0,461.1C743.0,462.8 745.9,464.6 748.9,465.6C751.9,466.5 754.8,466.1 757.8,466.7C760.7,467.2 763.7,468.0 766.7,468.9C769.6,469.8 772.2,471.7 775.6,472.2C778.9,472.8 782.6,472.0 786.7,472.2C790.7,472.4 797.4,472.6 800.0,473.3C802.6,474.1 800.4,475.9 802.2,476.7C804.1,477.4 808.1,477.8 811.1,477.8C814.1,477.8 817.0,476.7 820.0,476.7C823.0,476.7 825.9,477.6 828.9,477.8C831.9,478.0 834.8,477.6 837.8,477.8C840.7,478.0 843.7,478.7 846.7,478.9C849.6,479.1 853.0,478.7 855.6,478.9C858.1,479.1 859.3,479.1 862.2,480.0C865.2,480.9 870.0,483.0 873.3,484.4C876.7,485.9 879.3,487.4 882.2,488.9C885.2,490.4 888.1,492.2 891.1,493.3C894.1,494.4 897.0,495.9 900.0,495.6C903.0,495.2 905.9,491.1 908.9,491.1C911.9,491.1 914.8,494.1 917.8,495.6C920.7,497.0 923.7,499.3 926.7,500.0C929.6,500.7 932.6,500.0 935.6,500.0C938.5,500.0 941.5,499.6 944.4,500.0C947.4,500.4 950.4,501.5 953.3,502.2C956.3,503.0 959.3,503.3 962.2,504.4C965.2,505.6 968.1,507.6 971.1,508.9C974.1,510.2 977.0,511.9 980.0,512.2C983.0,512.6 985.9,510.9 988.9,511.1C991.9,511.3 994.8,512.6 997.8,513.3C1000.7,514.1 1003.7,515.2 1006.7,515.6C1009.6,515.9 1012.6,515.9 1015.6,515.6C1018.5,515.2 1021.5,512.6 1024.4,513.3C1027.4,514.1 1029.6,518.9 1033.3,520.0C1037.0,521.1 1042.2,520.0 1046.7,520.0C1051.1,520.0 1055.9,519.8 1060.0,520.1C1064.1,520.5 1068.3,521.4 1071.6,522.1C1074.8,522.7 1076.4,523.4 1079.3,524.0C1082.1,524.6 1085.7,526.2 1088.9,525.9C1092.1,525.6 1095.3,522.7 1098.5,522.1C1101.7,521.4 1104.9,521.8 1108.1,522.1C1111.4,522.4 1114.9,523.4 1117.8,524.0C1120.7,524.6 1122.3,525.9 1125.5,525.9C1128.7,525.9 1133.5,523.7 1137.0,524.0C1140.6,524.3 1143.5,527.5 1146.7,527.9C1149.9,528.2 1152.8,525.9 1156.3,525.9C1159.8,525.9 1164.6,527.2 1167.9,527.9C1171.1,528.5 1172.3,529.8 1175.6,529.8C1178.8,529.8 1183.3,528.2 1187.1,527.9C1191.0,527.5 1194.8,528.2 1198.7,527.9C1202.5,527.5 1206.4,525.9 1210.2,525.9C1214.1,525.9 1217.9,527.2 1221.8,527.9C1225.6,528.5 1229.5,529.5 1233.3,529.8C1237.2,530.1 1241.0,529.8 1244.9,529.8C1248.7,529.8 1252.6,529.8 1256.4,529.8C1260.3,529.8 1264.1,530.1 1268.0,529.8C1271.9,529.5 1275.7,528.2 1279.6,527.9C1283.4,527.5 1286.9,527.9 1291.1,527.9C1295.3,527.9 1302.3,527.9 1304.6,527.9" fill="none" stroke="#FFC000" stroke-width="2.5" stroke-linejoin="round" stroke-linecap="round"/>
<path d="M123.9,479.3C124.5,478.3 126.5,478.3 127.8,473.1C129.1,467.9 130.5,452.1 131.7,448.2C132.8,444.3 133.4,452.6 134.8,449.8C136.2,446.9 138.7,430.9 140.2,431.1C141.8,431.4 142.8,449.0 144.1,451.3C145.4,453.7 146.4,443.8 148.0,445.1C149.6,446.4 151.6,460.1 153.4,459.1C155.3,458.1 157.5,441.2 158.9,438.9C160.3,436.6 160.7,444.1 162.0,445.1C163.3,446.1 165.1,443.3 166.7,445.1C168.2,446.9 169.9,455.2 171.3,456.0C172.8,456.8 174.1,449.6 175.2,449.8C176.4,449.9 177.2,456.6 178.3,456.8C179.5,456.9 180.9,450.9 182.2,450.6C183.5,450.2 184.7,457.9 186.1,454.4C187.5,450.9 189.1,430.3 190.8,429.6C192.5,428.8 194.7,445.4 196.2,449.8C197.8,454.2 198.6,458.1 200.1,456.0C201.7,453.9 204.1,440.2 205.6,437.3C207.0,434.5 207.5,436.3 208.7,438.9C209.8,441.5 211.1,456.5 212.6,452.9C214.0,449.3 215.8,423.9 217.2,417.1C218.6,410.4 219.9,411.9 221.1,412.4C222.3,413.0 222.9,418.1 224.2,420.2C225.5,422.3 227.6,428.0 228.9,424.9C230.2,421.8 231.0,404.4 232.0,401.6C233.0,398.7 233.9,410.6 235.1,407.8C236.3,404.9 237.7,392.2 239.0,384.4C240.3,376.7 241.7,367.6 242.9,361.1C244.1,354.6 245.0,350.7 246.0,345.6C247.0,340.4 248.3,333.3 249.1,330.0C250.0,326.7 249.9,329.6 251.1,325.6C252.4,321.5 255.2,307.2 256.7,305.6C258.1,303.9 258.7,318.1 260.0,315.6C261.3,313.0 263.0,293.5 264.4,290.0C265.9,286.5 267.2,298.3 268.9,294.4C270.6,290.6 272.8,266.9 274.4,266.7C276.1,266.5 277.0,286.9 278.9,293.3C280.7,299.8 283.5,306.1 285.6,305.6C287.6,305.0 289.3,290.4 291.1,290.0C293.0,289.6 294.8,309.6 296.7,303.3C298.5,297.0 300.4,260.0 302.2,252.2C304.1,244.4 305.9,251.3 307.8,256.7C309.6,262.0 311.7,281.1 313.3,284.4C315.0,287.8 316.3,276.1 317.8,276.7C319.3,277.2 320.0,286.7 322.2,287.8C324.4,288.9 328.9,282.2 331.1,283.3C333.3,284.4 334.1,294.6 335.6,294.4C337.0,294.3 338.1,283.3 340.0,282.2C341.9,281.1 344.1,288.7 346.7,287.8C349.3,286.9 353.0,275.4 355.6,276.7C358.1,278.0 360.0,293.9 362.2,295.6C364.4,297.2 366.3,286.1 368.9,286.7C371.5,287.2 374.8,300.4 377.8,298.9C380.7,297.4 384.1,279.4 386.7,277.8C389.3,276.1 391.5,288.9 393.3,288.9C395.2,288.9 395.6,277.2 397.8,277.8C400.0,278.3 404.1,291.9 406.7,292.2C409.3,292.6 411.1,281.3 413.3,280.0C415.6,278.7 418.7,282.2 420.0,284.4C421.3,286.7 420.2,291.3 421.1,293.3C422.0,295.4 424.1,298.9 425.6,296.7C427.0,294.4 428.7,281.3 430.0,280.0C431.3,278.7 432.0,285.2 433.3,288.9C434.6,292.6 436.1,298.5 437.8,302.2C439.4,305.9 441.7,307.4 443.3,311.1C445.0,314.8 446.3,325.9 447.8,324.4C449.3,323.0 450.6,304.1 452.2,302.2C453.9,300.4 456.1,308.9 457.8,313.3C459.4,317.8 460.7,326.3 462.2,328.9C463.7,331.5 465.0,326.7 466.7,328.9C468.3,331.1 470.4,339.4 472.2,342.2C474.1,345.0 475.6,344.1 477.8,345.6C480.0,347.0 483.0,349.1 485.6,351.1C488.1,353.1 490.6,355.7 493.3,357.8C496.1,359.8 499.6,361.9 502.2,363.3C504.8,364.8 506.5,365.0 508.9,366.7C511.3,368.3 514.4,371.1 516.7,373.3C518.9,375.6 521.1,379.8 522.2,380.0C523.3,380.2 522.4,373.9 523.3,374.4C524.3,375.0 526.3,382.8 527.8,383.3C529.3,383.9 530.6,373.9 532.2,377.8C533.9,381.7 535.9,403.3 537.8,406.7C539.6,410.0 541.7,397.6 543.3,397.8C545.0,398.0 545.9,406.3 547.8,407.8C549.6,409.3 552.6,405.2 554.4,406.7C556.3,408.1 557.6,415.7 558.9,416.7C560.2,417.6 560.9,410.4 562.2,412.2C563.5,414.1 564.8,425.9 566.7,427.8C568.5,429.6 571.1,422.6 573.3,423.3C575.6,424.1 578.0,429.1 580.0,432.2C582.0,435.4 583.3,444.1 585.6,442.2C587.8,440.4 591.1,422.4 593.3,421.1C595.6,419.8 597.0,429.3 598.9,434.4C600.7,439.6 602.8,449.4 604.4,452.2C606.1,455.0 607.0,449.6 608.9,451.1C610.7,452.6 613.3,458.0 615.6,461.1C617.8,464.3 620.2,470.4 622.2,470.0C624.3,469.6 625.9,458.5 627.8,458.9C629.6,459.3 631.3,468.9 633.3,472.2C635.4,475.6 638.0,480.7 640.0,478.9C642.0,477.0 643.3,461.5 645.6,461.1C647.8,460.7 651.1,475.9 653.3,476.7C655.6,477.4 657.0,465.2 658.9,465.6C660.7,465.9 662.4,476.3 664.4,478.9C666.5,481.5 668.9,480.0 671.1,481.1C673.3,482.2 675.6,483.7 677.8,485.6C680.0,487.4 682.2,488.5 684.4,492.2C686.7,495.9 689.3,507.4 691.1,507.8C693.0,508.1 693.7,495.2 695.6,494.4C697.4,493.7 699.6,504.1 702.2,503.3C704.8,502.6 708.5,489.3 711.1,490.0C713.7,490.7 715.6,507.0 717.8,507.8C720.0,508.5 722.2,497.4 724.4,494.4C726.7,491.5 728.7,486.7 731.1,490.0C733.5,493.3 736.7,510.9 738.9,514.4C741.1,518.0 742.4,512.8 744.4,511.1C746.5,509.4 748.9,504.6 751.1,504.4C753.3,504.3 755.4,505.7 757.8,510.0C760.2,514.3 763.3,529.6 765.6,530.0C767.8,530.4 769.1,516.3 771.1,512.2C773.1,508.1 775.7,505.2 777.8,505.6C779.8,505.9 781.5,514.4 783.3,514.4C785.2,514.4 786.9,505.9 788.9,505.6C790.9,505.2 793.7,511.9 795.6,512.2C797.4,512.6 798.5,506.1 800.0,507.8C801.5,509.4 803.0,518.7 804.4,522.2C805.9,525.7 807.0,529.3 808.9,528.9C810.7,528.5 813.5,522.6 815.6,520.0C817.6,517.4 819.3,513.0 821.1,513.3C823.0,513.7 824.6,520.6 826.7,522.2C828.7,523.9 831.5,524.4 833.3,523.3C835.2,522.2 836.3,515.0 837.8,515.6C839.3,516.1 840.7,523.5 842.2,526.7C843.7,529.8 845.2,535.2 846.7,534.4C848.1,533.7 849.4,527.2 851.1,522.2C852.8,517.2 854.8,505.2 856.7,504.4C858.5,503.7 860.4,516.7 862.2,517.8C864.1,518.9 865.9,510.0 867.8,511.1C869.6,512.2 871.7,523.0 873.3,524.4C875.0,525.9 875.9,518.5 877.8,520.0C879.6,521.5 882.4,531.9 884.4,533.3C886.5,534.8 888.1,530.7 890.0,528.9C891.9,527.0 893.7,522.6 895.6,522.2C897.4,521.9 899.3,524.4 901.1,526.7C903.0,528.9 905.0,538.9 906.7,535.6C908.3,532.2 909.6,508.5 911.1,506.7C912.6,504.8 913.7,523.3 915.6,524.4C917.4,525.6 920.0,517.4 922.2,513.3C924.4,509.3 927.0,501.5 928.9,500.0C930.7,498.5 931.7,506.3 933.3,504.4C935.0,502.6 937.0,486.7 938.9,488.9C940.7,491.1 942.4,513.3 944.4,517.8C946.5,522.2 949.1,517.4 951.1,515.6C953.1,513.7 955.0,505.6 956.7,506.7C958.3,507.8 959.4,523.0 961.1,522.2C962.8,521.5 964.6,503.3 966.7,502.2C968.7,501.1 971.5,512.2 973.3,515.6C975.2,518.9 975.9,519.3 977.8,522.2C979.6,525.2 982.8,529.3 984.4,533.3C986.1,537.4 986.3,548.1 987.8,546.7C989.3,545.2 991.7,529.3 993.3,524.4C995.0,519.6 996.3,518.5 997.8,517.8C999.3,517.0 1000.7,520.4 1002.2,520.0C1003.7,519.6 1005.2,513.3 1006.7,515.6C1008.1,517.8 1009.3,530.0 1011.1,533.3C1013.0,536.7 1015.6,535.2 1017.8,535.6C1020.0,535.9 1022.2,537.4 1024.4,535.6C1026.7,533.7 1029.3,524.1 1031.1,524.4C1033.0,524.8 1033.9,537.8 1035.6,537.8C1037.2,537.8 1039.3,525.9 1041.1,524.4C1043.0,523.0 1044.6,527.8 1046.7,528.9C1048.7,530.0 1051.1,531.0 1053.3,531.1C1055.6,531.3 1058.2,531.0 1060.0,529.8C1061.8,528.6 1062.2,522.4 1063.9,524.0C1065.5,525.6 1067.7,539.1 1069.6,539.4C1071.6,539.7 1073.5,525.6 1075.4,525.9C1077.3,526.2 1079.3,541.0 1081.2,541.3C1083.1,541.7 1085.0,532.3 1087.0,527.9C1088.9,523.4 1090.8,516.9 1092.7,514.4C1094.7,511.8 1096.6,512.8 1098.5,512.4C1100.4,512.1 1102.4,512.4 1104.3,512.4C1106.2,512.4 1108.1,513.1 1110.1,512.4C1112.0,511.8 1114.1,506.0 1115.9,508.6C1117.6,511.2 1119.1,526.2 1120.7,527.9C1122.3,529.5 1124.0,516.0 1125.5,518.2C1126.9,520.5 1127.7,539.1 1129.3,541.3C1130.9,543.6 1133.2,532.0 1135.1,531.7C1137.0,531.4 1139.3,537.2 1140.9,539.4C1142.5,541.7 1143.1,546.8 1144.7,545.2C1146.3,543.6 1148.6,532.7 1150.5,529.8C1152.4,526.9 1154.4,527.9 1156.3,527.9C1158.2,527.9 1160.1,529.8 1162.1,529.8C1164.0,529.8 1165.9,526.6 1167.9,527.9C1169.8,529.1 1171.4,538.4 1173.6,537.5C1175.9,536.5 1179.4,522.4 1181.3,522.1C1183.3,521.8 1183.3,534.0 1185.2,535.6C1187.1,537.2 1190.6,530.1 1192.9,531.7C1195.1,533.3 1196.7,545.2 1198.7,545.2C1200.6,545.2 1202.8,534.6 1204.4,531.7C1206.0,528.8 1206.9,524.6 1208.3,527.9C1209.7,531.1 1211.5,549.0 1213.1,551.0C1214.7,552.9 1216.5,539.7 1217.9,539.4C1219.4,539.1 1220.5,549.7 1221.8,549.0C1223.1,548.4 1224.0,536.5 1225.6,535.6C1227.2,534.6 1229.5,540.4 1231.4,543.3C1233.3,546.1 1235.3,554.2 1237.2,552.9C1239.1,551.6 1241.0,540.4 1243.0,535.6C1244.9,530.7 1246.8,525.0 1248.7,524.0C1250.7,523.0 1252.6,530.4 1254.5,529.8C1256.4,529.1 1258.4,520.1 1260.3,520.1C1262.2,520.1 1264.3,526.2 1266.1,529.8C1267.8,533.3 1269.3,541.7 1270.9,541.3C1272.5,541.0 1273.9,530.4 1275.7,527.9C1277.5,525.3 1279.7,527.9 1281.5,525.9C1283.2,524.0 1284.4,516.0 1286.3,516.3C1288.2,516.6 1291.0,525.3 1293.0,527.9C1295.1,530.4 1296.9,529.8 1298.8,531.7C1300.7,533.6 1303.6,538.1 1304.6,539.4" fill="none" stroke="#FF0000" stroke-width="2.5" stroke-linejoin="round" stroke-linecap="round"/>
<line x1="124.1" y1="13.3" x2="124.1" y2="672.7" stroke="#000" stroke-width="2.2"/>
<line x1="124.1" y1="484.3" x2="1304.1" y2="484.3" stroke="#000" stroke-width="2.2"/>
<line x1="291.2" y1="750.5" x2="291.2" y2="1409.3" stroke="#D9D9D9" stroke-width="2.2"/>
<line x1="460.0" y1="750.5" x2="460.0" y2="1409.3" stroke="#D9D9D9" stroke-width="2.2"/>
<line x1="628.8" y1="750.5" x2="628.8" y2="1409.3" stroke="#D9D9D9" stroke-width="2.2"/>
<line x1="797.6" y1="750.5" x2="797.6" y2="1409.3" stroke="#D9D9D9" stroke-width="2.2"/>
<line x1="966.4" y1="750.5" x2="966.4" y2="1409.3" stroke="#D9D9D9" stroke-width="2.2"/>
<line x1="1135.3" y1="750.5" x2="1135.3" y2="1409.3" stroke="#D9D9D9" stroke-width="2.2"/>
<line x1="1304.1" y1="750.5" x2="1304.1" y2="1409.3" stroke="#D9D9D9" stroke-width="2.2"/>
<text x="93.8" y="759.8" text-anchor="end" font-size="28.8" fill="#595959" textLength="51.6" lengthAdjust="spacingAndGlyphs">0.08</text>
<text x="93.8" y="869.6" text-anchor="end" font-size="28.8" fill="#595959" textLength="51.6" lengthAdjust="spacingAndGlyphs">0.06</text>
<text x="93.8" y="979.4" text-anchor="end" font-size="28.8" fill="#595959" textLength="51.6" lengthAdjust="spacingAndGlyphs">0.04</text>
<text x="93.8" y="1089.2" text-anchor="end" font-size="28.8" fill="#595959" textLength="51.6" lengthAdjust="spacingAndGlyphs">0.02</text>
<text x="93.8" y="1199.0" text-anchor="end" font-size="28.8" fill="#595959" textLength="14.7" lengthAdjust="spacingAndGlyphs">0</text>
<text x="93.8" y="1418.6" text-anchor="end" font-size="28.8" fill="#595959" textLength="60.4" lengthAdjust="spacingAndGlyphs">-0.04</text>
<text x="122.4" y="1238.2" text-anchor="middle" font-size="28.8" fill="#595959" textLength="14.7" lengthAdjust="spacingAndGlyphs">0</text>
<text x="291.2" y="1238.2" text-anchor="middle" font-size="28.8" fill="#595959" textLength="36.8" lengthAdjust="spacingAndGlyphs">0.1</text>
<text x="460.0" y="1238.2" text-anchor="middle" font-size="28.8" fill="#595959" textLength="36.8" lengthAdjust="spacingAndGlyphs">0.2</text>
<text x="628.8" y="1238.2" text-anchor="middle" font-size="28.8" fill="#595959" textLength="36.8" lengthAdjust="spacingAndGlyphs">0.3</text>
<text x="797.6" y="1238.2" text-anchor="middle" font-size="28.8" fill="#595959" textLength="36.8" lengthAdjust="spacingAndGlyphs">0.4</text>
<text x="966.4" y="1238.2" text-anchor="middle" font-size="28.8" fill="#595959" textLength="36.8" lengthAdjust="spacingAndGlyphs">0.5</text>
<text x="1135.3" y="1238.2" text-anchor="middle" font-size="28.8" fill="#595959" textLength="36.8" lengthAdjust="spacingAndGlyphs">0.6</text>
<text x="1304.1" y="1238.2" text-anchor="middle" font-size="28.8" fill="#595959" textLength="36.8" lengthAdjust="spacingAndGlyphs">0.7</text>
<text x="1.2" y="759.6" font-size="33" font-weight="bold" fill="#000">B</text>
<path d="M125.0,1324.1 V1296.1 H293.3 V1336.6 H935.0" fill="none" stroke="#7F7F7F" stroke-width="4.2" stroke-linejoin="round"/>
<text x="59.0" y="1302.3" font-size="24" font-weight="bold" fill="#000">on</text>
<text x="59.0" y="1347.9" font-size="24" font-weight="bold" fill="#000">off</text>
<circle cx="33.9" cy="1302" r="1.1" fill="#999"/>
<path d="M123.1,1192.4C123.9,1193.2 126.4,1198.4 127.8,1197.1C129.2,1195.8 130.4,1190.1 131.7,1184.7C133.0,1179.2 134.0,1168.5 135.6,1164.4C137.1,1160.4 139.3,1160.6 141.0,1160.6C142.7,1160.6 144.2,1162.2 145.7,1164.4C147.1,1166.6 148.4,1170.7 149.6,1173.8C150.7,1176.9 151.5,1180.5 152.7,1183.1C153.8,1185.7 155.3,1189.3 156.6,1189.3C157.9,1189.3 159.0,1185.2 160.4,1183.1C161.9,1181.0 163.7,1180.0 165.1,1176.9C166.5,1173.8 167.7,1165.0 169.0,1164.4C170.3,1163.9 171.7,1170.4 172.9,1173.8C174.1,1177.1 174.7,1182.1 176.0,1184.7C177.3,1187.3 179.4,1191.1 180.7,1189.3C182.0,1187.5 182.7,1176.4 183.8,1173.8C184.8,1171.2 185.9,1171.7 186.9,1173.8C187.9,1175.9 189.2,1182.6 190.0,1186.2C190.8,1189.9 190.8,1194.5 191.6,1195.6C192.3,1196.6 193.6,1195.8 194.7,1192.4C195.7,1189.1 196.7,1181.6 197.8,1175.3C198.8,1169.1 199.6,1160.8 200.9,1155.1C202.2,1149.4 204.0,1146.6 205.6,1141.1C207.1,1135.7 208.7,1128.1 210.2,1122.4C211.8,1116.7 213.6,1110.5 214.9,1106.9C216.2,1103.3 216.7,1102.2 218.0,1100.7C219.3,1099.1 221.1,1101.2 222.7,1097.6C224.2,1093.9 225.8,1082.6 227.3,1078.9C228.9,1075.1 230.3,1080.7 232.0,1075.0C233.7,1069.3 235.7,1052.9 237.8,1044.4C239.9,1036.0 241.9,1029.3 244.4,1024.4C247.0,1019.6 250.7,1019.6 253.3,1015.6C255.9,1011.5 258.1,1004.3 260.0,1000.0C261.9,995.7 263.3,993.4 264.8,990.0C266.3,986.6 267.7,982.7 268.9,979.6C270.1,976.5 271.0,973.3 272.0,971.3C273.1,969.3 274.0,967.6 275.1,967.7C276.3,967.8 277.7,969.4 278.8,971.9C279.9,974.3 280.9,979.9 281.9,982.2C282.9,984.6 283.8,984.4 285.0,985.9C286.2,987.3 286.8,987.3 288.9,991.1C291.0,995.0 295.2,1008.9 297.8,1008.9C300.4,1008.9 302.6,994.4 304.4,991.1C306.3,987.8 307.0,994.4 308.9,988.9C310.7,983.3 313.3,963.0 315.6,957.8C317.8,952.6 320.2,957.8 322.2,957.8C324.3,957.8 325.9,954.4 327.8,957.8C329.6,961.1 331.3,975.6 333.3,977.8C335.4,980.0 337.4,970.0 340.0,971.1C342.6,972.2 346.3,981.5 348.9,984.4C351.5,987.4 353.5,985.9 355.6,988.9C357.6,991.9 359.3,1001.1 361.1,1002.2C363.0,1003.3 364.3,995.2 366.7,995.6C369.1,995.9 372.8,1001.5 375.6,1004.4C378.3,1007.4 381.1,1010.0 383.3,1013.3C385.6,1016.7 386.9,1021.5 388.9,1024.4C390.9,1027.4 393.3,1028.9 395.6,1031.1C397.8,1033.3 399.6,1034.4 402.2,1037.8C404.8,1041.1 408.3,1047.8 411.1,1051.1C413.9,1054.4 417.0,1057.0 418.9,1057.8C420.7,1058.5 420.6,1057.0 422.2,1055.6C423.9,1054.1 426.7,1049.3 428.9,1048.9C431.1,1048.5 433.0,1053.0 435.6,1053.3C438.1,1053.7 441.5,1051.7 444.4,1051.1C447.4,1050.6 450.7,1048.9 453.3,1050.0C455.9,1051.1 457.8,1053.9 460.0,1057.8C462.2,1061.7 464.4,1068.5 466.7,1073.3C468.9,1078.1 470.7,1083.3 473.3,1086.7C475.9,1090.0 479.8,1091.9 482.2,1093.3C484.6,1094.8 485.9,1091.9 487.8,1095.6C489.6,1099.3 491.7,1110.0 493.3,1115.6C495.0,1121.1 495.9,1126.7 497.8,1128.9C499.6,1131.1 502.2,1129.3 504.4,1128.9C506.7,1128.5 509.3,1128.1 511.1,1126.7C513.0,1125.2 513.7,1119.6 515.6,1120.0C517.4,1120.4 520.0,1126.3 522.2,1128.9C524.4,1131.5 526.7,1131.9 528.9,1135.6C531.1,1139.3 533.7,1147.8 535.6,1151.1C537.4,1154.4 538.1,1155.2 540.0,1155.6C541.9,1155.9 544.8,1152.6 546.7,1153.3C548.5,1154.1 549.3,1160.0 551.1,1160.0C553.0,1160.0 555.6,1151.9 557.8,1153.3C560.0,1154.8 561.9,1165.6 564.4,1168.9C567.0,1172.2 570.7,1173.3 573.3,1173.3C575.9,1173.3 577.8,1170.4 580.0,1168.9C582.2,1167.4 584.4,1162.2 586.7,1164.4C588.9,1166.7 591.1,1178.5 593.3,1182.2C595.6,1185.9 597.4,1183.0 600.0,1186.7C602.6,1190.4 606.3,1200.7 608.9,1204.4C611.5,1208.1 613.3,1207.0 615.6,1208.9C617.8,1210.7 619.6,1215.2 622.2,1215.6C624.8,1215.9 628.5,1210.7 631.1,1211.1C633.7,1211.5 635.2,1216.3 637.8,1217.8C640.4,1219.3 644.1,1223.0 646.7,1220.0C649.3,1217.0 651.1,1202.2 653.3,1200.0C655.6,1197.8 657.8,1205.9 660.0,1206.7C662.2,1207.4 664.1,1203.7 666.7,1204.4C669.3,1205.2 672.6,1208.9 675.6,1211.1C678.5,1213.3 681.5,1215.9 684.4,1217.8C687.4,1219.6 690.7,1220.7 693.3,1222.2C695.9,1223.7 698.3,1225.7 700.0,1226.7C701.7,1227.7 701.5,1227.2 703.7,1228.2C705.9,1229.3 710.4,1233.0 713.2,1233.0C716.0,1233.0 718.3,1229.8 720.3,1228.2C722.3,1226.6 723.5,1223.5 725.0,1223.5C726.6,1223.5 727.8,1228.8 729.8,1228.2C731.8,1227.6 734.5,1221.1 736.9,1219.9C739.3,1218.7 741.6,1220.1 744.0,1221.1C746.4,1222.1 749.1,1223.9 751.1,1225.9C753.1,1227.8 753.9,1229.4 755.9,1233.0C757.8,1236.5 760.6,1246.0 763.0,1247.2C765.3,1248.4 767.7,1242.0 770.1,1240.1C772.4,1238.1 774.4,1235.7 777.2,1235.3C780.0,1234.9 783.9,1235.3 786.7,1237.7C789.4,1240.1 791.8,1245.6 793.8,1249.6C795.8,1253.5 796.9,1262.2 798.5,1261.4C800.1,1260.6 801.7,1250.0 803.3,1244.8C804.8,1239.7 806.0,1233.4 808.0,1230.6C810.0,1227.8 812.7,1227.8 815.1,1228.2C817.5,1228.6 819.9,1231.4 822.2,1233.0C824.6,1234.5 827.0,1237.3 829.3,1237.7C831.7,1238.1 834.1,1235.7 836.4,1235.3C838.8,1234.9 841.2,1234.5 843.6,1235.3C845.9,1236.1 848.3,1238.9 850.7,1240.1C853.0,1241.3 855.4,1242.4 857.8,1242.4C860.1,1242.4 862.9,1239.7 864.9,1240.1C866.9,1240.5 867.7,1244.0 869.6,1244.8C871.6,1245.6 874.4,1243.2 876.7,1244.8C879.1,1246.4 881.5,1254.7 883.9,1254.3C886.2,1253.9 888.6,1244.8 891.0,1242.4C893.3,1240.1 895.7,1242.0 898.1,1240.1C900.4,1238.1 902.4,1233.4 905.2,1230.6C908.0,1227.8 911.9,1222.3 914.7,1223.5C917.4,1224.7 919.4,1237.3 921.8,1237.7C924.1,1238.1 926.5,1227.8 928.9,1225.9C931.3,1223.9 933.6,1226.2 936.0,1225.9C938.4,1225.5 940.7,1223.1 943.1,1223.5C945.5,1223.9 947.9,1227.8 950.2,1228.2C952.6,1228.6 955.0,1226.6 957.3,1225.9C959.7,1225.1 962.1,1223.1 964.4,1223.5C966.8,1223.9 968.8,1227.4 971.6,1228.2C974.3,1229.0 978.3,1226.6 981.0,1228.2C983.8,1229.8 985.8,1234.9 988.1,1237.7C990.5,1240.5 993.3,1242.4 995.3,1244.8C997.2,1247.2 998.3,1249.5 1000.0,1251.9C1001.7,1254.4 1003.1,1259.8 1005.2,1259.6C1007.3,1259.4 1010.6,1252.2 1012.7,1250.7C1014.8,1249.3 1015.7,1256.6 1017.8,1250.7C1019.9,1244.9 1022.8,1221.8 1025.3,1215.5C1027.9,1209.2 1030.4,1212.5 1032.9,1213.0C1035.4,1213.4 1037.5,1215.9 1040.4,1218.0C1043.4,1220.1 1047.6,1223.5 1050.5,1225.6C1053.5,1227.7 1055.6,1231.4 1058.1,1230.6C1060.6,1229.8 1063.5,1223.2 1065.6,1220.5C1067.7,1217.8 1068.8,1213.8 1070.7,1214.2C1072.6,1214.6 1074.9,1220.3 1077.0,1223.0C1079.1,1225.8 1081.0,1231.4 1083.3,1230.6C1085.6,1229.8 1088.7,1220.1 1090.8,1218.0C1092.9,1215.9 1094.0,1213.0 1095.9,1218.0C1097.7,1223.0 1100.0,1247.4 1102.1,1248.2C1104.2,1249.1 1106.6,1225.6 1108.4,1223.0C1110.3,1220.5 1111.4,1228.9 1113.5,1233.1C1115.6,1237.3 1118.7,1240.9 1121.0,1248.2C1123.3,1255.6 1125.2,1276.8 1127.3,1277.2C1129.4,1277.6 1131.3,1257.7 1133.6,1250.7C1135.9,1243.8 1138.7,1237.3 1141.2,1235.6C1143.7,1234.0 1146.2,1240.7 1148.7,1240.7C1151.3,1240.7 1153.4,1233.5 1156.3,1235.6C1159.2,1237.7 1163.0,1251.6 1166.4,1253.3C1169.7,1254.9 1173.1,1248.2 1176.4,1245.7C1179.8,1243.2 1183.6,1238.1 1186.5,1238.1C1189.5,1238.1 1191.6,1244.9 1194.1,1245.7C1196.6,1246.5 1199.5,1244.9 1201.6,1243.2C1203.7,1241.5 1204.6,1234.8 1206.7,1235.6C1208.8,1236.5 1211.9,1247.4 1214.2,1248.2C1216.5,1249.1 1218.6,1239.6 1220.5,1240.7C1222.4,1241.7 1223.7,1255.4 1225.6,1254.5C1227.4,1253.7 1229.1,1241.7 1231.9,1235.6C1234.6,1229.5 1239.0,1219.7 1241.9,1218.0C1244.9,1216.3 1246.5,1217.6 1249.5,1225.6C1252.4,1233.5 1256.6,1260.8 1259.6,1265.9C1262.5,1270.9 1264.6,1257.9 1267.1,1255.8C1269.6,1253.7 1272.1,1257.5 1274.7,1253.3C1277.2,1249.1 1279.7,1234.4 1282.2,1230.6C1284.7,1226.8 1287.3,1229.8 1289.8,1230.6C1292.3,1231.4 1294.8,1233.1 1297.3,1235.6C1299.9,1238.1 1303.6,1244.0 1304.9,1245.7" fill="none" stroke="#C00000" stroke-width="2.5" stroke-linejoin="round" stroke-linecap="round"/>
<path d="M123.1,1178.4C123.9,1178.2 126.2,1176.9 127.8,1176.9C129.3,1176.9 131.1,1178.4 132.4,1178.4C133.7,1178.4 134.3,1176.1 135.6,1176.9C136.9,1177.7 138.9,1183.4 140.2,1183.1C141.5,1182.9 142.2,1174.3 143.3,1175.3C144.5,1176.4 146.1,1189.1 147.2,1189.3C148.4,1189.6 148.9,1178.7 150.3,1176.9C151.8,1175.1 154.1,1179.7 155.8,1178.4C157.5,1177.1 159.0,1169.4 160.4,1169.1C161.9,1168.9 163.0,1176.4 164.3,1176.9C165.6,1177.4 166.8,1171.4 168.2,1172.2C169.6,1173.0 171.5,1181.6 172.9,1181.6C174.3,1181.6 175.5,1173.5 176.8,1172.2C178.1,1170.9 179.5,1175.6 180.7,1173.8C181.8,1172.0 182.5,1165.5 183.8,1161.3C185.1,1157.2 186.9,1153.6 188.4,1148.9C190.0,1144.2 191.8,1137.0 193.1,1133.3C194.4,1129.7 195.1,1127.1 196.2,1127.1C197.4,1127.1 198.8,1136.2 200.1,1133.3C201.4,1130.5 202.8,1115.2 204.0,1110.0C205.2,1104.8 206.1,1106.1 207.1,1102.2C208.1,1098.3 208.9,1092.4 210.2,1086.7C211.5,1081.0 213.6,1074.5 214.9,1068.0C216.2,1061.5 217.2,1052.4 218.0,1047.8C218.8,1043.1 218.9,1045.7 219.6,1040.0C220.3,1034.3 220.7,1021.8 222.2,1013.3C223.7,1004.9 226.7,994.7 228.5,989.5C230.3,984.3 231.9,986.0 233.1,982.2C234.4,978.4 235.0,969.4 235.7,966.7C236.4,963.9 236.6,965.6 237.3,965.6C238.0,965.6 238.9,967.5 239.9,966.7C240.8,965.8 242.0,959.2 243.0,960.4C244.0,961.7 245.3,971.3 246.1,973.9C246.9,976.5 246.8,979.5 247.7,976.0C248.5,972.5 250.1,956.5 251.3,953.2C252.5,949.9 253.4,957.9 254.9,956.3C256.5,954.7 259.1,944.5 260.6,943.3C262.2,942.2 263.2,949.3 264.3,949.6C265.3,949.8 265.9,947.4 266.9,944.9C267.8,942.4 268.8,936.3 270.0,934.5C271.2,932.7 272.8,935.3 274.1,934.0C275.4,932.7 276.4,926.7 277.7,926.7C279.0,926.8 280.7,933.9 281.9,934.5C283.1,935.1 284.2,930.9 285.0,930.4C285.8,929.8 285.5,927.3 286.7,931.1C287.9,934.9 290.6,951.5 292.2,953.3C293.9,955.2 295.2,943.0 296.7,942.2C298.1,941.5 299.4,945.2 301.1,948.9C302.8,952.6 305.0,962.4 306.7,964.4C308.3,966.5 309.6,960.7 311.1,961.1C312.6,961.5 313.9,967.0 315.6,966.7C317.2,966.3 319.3,960.7 321.1,958.9C323.0,957.0 324.6,953.9 326.7,955.6C328.7,957.2 331.3,968.1 333.3,968.9C335.4,969.6 337.0,959.3 338.9,960.0C340.7,960.7 342.4,970.7 344.4,973.3C346.5,975.9 349.1,975.9 351.1,975.6C353.1,975.2 354.4,969.3 356.7,971.1C358.9,973.0 362.2,984.4 364.4,986.7C366.7,988.9 367.8,981.9 370.0,984.4C372.2,987.0 375.4,997.0 377.8,1002.2C380.2,1007.4 382.2,1009.6 384.4,1015.6C386.7,1021.5 388.5,1031.1 391.1,1037.8C393.7,1044.4 397.0,1051.1 400.0,1055.6C403.0,1060.0 406.7,1065.2 408.9,1064.4C411.1,1063.7 411.7,1051.5 413.3,1051.1C415.0,1050.7 417.2,1061.5 418.9,1062.2C420.6,1063.0 421.7,1054.4 423.3,1055.6C425.0,1056.7 426.5,1065.9 428.9,1068.9C431.3,1071.9 434.8,1072.2 437.8,1073.3C440.7,1074.4 444.1,1073.3 446.7,1075.6C449.3,1077.8 450.7,1083.0 453.3,1086.7C455.9,1090.4 459.6,1092.6 462.2,1097.8C464.8,1103.0 466.7,1112.6 468.9,1117.8C471.1,1123.0 473.3,1125.6 475.6,1128.9C477.8,1132.2 480.0,1137.8 482.2,1137.8C484.4,1137.8 486.7,1129.6 488.9,1128.9C491.1,1128.1 493.3,1132.2 495.6,1133.3C497.8,1134.4 500.0,1133.3 502.2,1135.6C504.4,1137.8 506.7,1144.8 508.9,1146.7C511.1,1148.5 513.3,1145.9 515.6,1146.7C517.8,1147.4 520.0,1148.1 522.2,1151.1C524.4,1154.1 527.0,1163.0 528.9,1164.4C530.7,1165.9 531.5,1158.9 533.3,1160.0C535.2,1161.1 537.4,1168.1 540.0,1171.1C542.6,1174.1 546.3,1175.6 548.9,1177.8C551.5,1180.0 553.0,1184.1 555.6,1184.4C558.1,1184.8 562.2,1178.5 564.4,1180.0C566.7,1181.5 566.7,1190.0 568.9,1193.3C571.1,1196.7 574.8,1196.7 577.8,1200.0C580.7,1203.3 583.7,1209.6 586.7,1213.3C589.6,1217.0 592.6,1221.1 595.6,1222.2C598.5,1223.3 601.9,1218.9 604.4,1220.0C607.0,1221.1 608.5,1227.8 611.1,1228.9C613.7,1230.0 617.4,1226.7 620.0,1226.7C622.6,1226.7 624.1,1228.1 626.7,1228.9C629.3,1229.6 632.6,1229.6 635.6,1231.1C638.5,1232.6 641.1,1237.0 644.4,1237.8C647.8,1238.5 651.9,1235.6 655.6,1235.6C659.3,1235.6 663.0,1237.8 666.7,1237.8C670.4,1237.8 674.1,1235.2 677.8,1235.6C681.5,1235.9 685.2,1240.0 688.9,1240.0C692.6,1240.0 697.5,1235.1 700.0,1235.6C702.5,1236.0 701.5,1238.9 703.7,1242.4C705.9,1246.0 710.4,1255.5 713.2,1256.7C716.0,1257.9 717.9,1250.7 720.3,1249.6C722.7,1248.4 725.0,1250.0 727.4,1249.6C729.8,1249.2 731.8,1247.2 734.5,1247.2C737.3,1247.2 741.2,1249.2 744.0,1249.6C746.8,1250.0 748.3,1250.3 751.1,1249.6C753.9,1248.8 757.4,1245.2 760.6,1244.8C763.8,1244.4 766.9,1247.6 770.1,1247.2C773.2,1246.8 776.4,1243.6 779.6,1242.4C782.7,1241.3 786.3,1239.7 789.0,1240.1C791.8,1240.5 793.8,1243.6 796.1,1244.8C798.5,1246.0 800.9,1244.4 803.3,1247.2C805.6,1250.0 808.0,1258.2 810.4,1261.4C812.7,1264.6 814.7,1265.8 817.5,1266.1C820.2,1266.5 823.8,1265.0 827.0,1263.8C830.1,1262.6 833.7,1256.7 836.4,1259.0C839.2,1261.4 841.6,1276.4 843.6,1278.0C845.5,1279.6 846.3,1274.8 848.3,1268.5C850.3,1262.2 853.0,1242.0 855.4,1240.1C857.8,1238.1 860.1,1253.9 862.5,1256.7C864.9,1259.4 866.9,1255.5 869.6,1256.7C872.4,1257.9 876.0,1261.8 879.1,1263.8C882.3,1265.8 885.8,1269.7 888.6,1268.5C891.4,1267.3 892.9,1258.2 895.7,1256.7C898.5,1255.1 902.0,1258.6 905.2,1259.0C908.3,1259.4 911.5,1259.4 914.7,1259.0C917.8,1258.6 921.0,1257.5 924.1,1256.7C927.3,1255.9 930.9,1257.5 933.6,1254.3C936.4,1251.1 938.0,1240.9 940.7,1237.7C943.5,1234.5 947.1,1235.3 950.2,1235.3C953.4,1235.3 956.5,1237.7 959.7,1237.7C962.9,1237.7 966.0,1236.5 969.2,1235.3C972.3,1234.1 975.5,1231.4 978.7,1230.6C981.8,1229.8 984.6,1229.8 988.1,1230.6C991.7,1231.4 996.7,1232.8 1000.0,1235.3C1003.3,1237.9 1005.6,1246.5 1007.7,1245.7C1009.8,1244.9 1010.6,1232.3 1012.7,1230.6C1014.8,1228.9 1017.4,1235.2 1020.3,1235.6C1023.2,1236.0 1026.6,1232.3 1030.4,1233.1C1034.1,1234.0 1039.6,1240.7 1043.0,1240.7C1046.3,1240.7 1047.6,1235.6 1050.5,1233.1C1053.5,1230.6 1057.2,1226.8 1060.6,1225.6C1064.0,1224.3 1067.7,1224.3 1070.7,1225.6C1073.6,1226.8 1075.7,1231.4 1078.2,1233.1C1080.7,1234.8 1082.8,1236.9 1085.8,1235.6C1088.7,1234.4 1092.5,1226.4 1095.9,1225.6C1099.2,1224.7 1102.6,1229.3 1105.9,1230.6C1109.3,1231.9 1113.5,1234.0 1116.0,1233.1C1118.5,1232.3 1118.5,1227.2 1121.0,1225.6C1123.6,1223.9 1127.8,1223.0 1131.1,1223.0C1134.5,1223.0 1137.8,1224.3 1141.2,1225.6C1144.5,1226.8 1147.9,1229.8 1151.3,1230.6C1154.6,1231.4 1158.0,1231.9 1161.3,1230.6C1164.7,1229.3 1168.0,1224.9 1171.4,1223.0C1174.8,1221.1 1178.5,1219.3 1181.5,1219.3C1184.4,1219.3 1186.1,1222.4 1189.0,1223.0C1192.0,1223.7 1196.2,1222.8 1199.1,1223.0C1202.0,1223.2 1203.7,1223.5 1206.7,1224.3C1209.6,1225.1 1213.4,1227.9 1216.7,1228.1C1220.1,1228.3 1223.5,1226.4 1226.8,1225.6C1230.2,1224.7 1234.0,1224.5 1236.9,1223.0C1239.8,1221.6 1241.9,1216.7 1244.4,1216.7C1247.0,1216.7 1249.1,1221.6 1252.0,1223.0C1254.9,1224.5 1259.1,1224.3 1262.1,1225.6C1265.0,1226.8 1266.7,1231.0 1269.6,1230.6C1272.6,1230.2 1276.3,1223.5 1279.7,1223.0C1283.1,1222.6 1285.6,1228.1 1289.8,1228.1C1294.0,1228.1 1302.4,1223.9 1304.9,1223.0" fill="none" stroke="#6228A0" stroke-width="2.5" stroke-linejoin="round" stroke-linecap="round"/>
<path d="M123.1,1197.1C123.9,1198.4 126.0,1203.3 127.8,1204.9C129.6,1206.4 131.9,1205.4 134.0,1206.4C136.1,1207.5 138.1,1210.9 140.2,1211.1C142.3,1211.4 144.1,1209.0 146.4,1208.0C148.8,1207.0 151.9,1204.9 154.2,1204.9C156.6,1204.9 158.4,1208.0 160.4,1208.0C162.5,1208.0 164.5,1204.4 166.7,1204.9C168.9,1205.4 171.6,1211.1 173.7,1211.1C175.7,1211.1 177.2,1206.4 179.1,1204.9C181.1,1203.3 183.3,1203.1 185.3,1201.8C187.4,1200.5 189.7,1199.2 191.6,1197.1C193.4,1195.0 194.7,1191.1 196.2,1189.3C197.8,1187.5 199.3,1186.2 200.9,1186.2C202.4,1186.2 204.0,1190.4 205.6,1189.3C207.1,1188.3 208.4,1184.7 210.2,1180.0C212.0,1175.3 214.4,1168.6 216.4,1161.3C218.5,1154.1 220.6,1145.5 222.7,1136.4C224.7,1127.4 226.8,1117.8 228.9,1106.9C231.0,1096.0 233.3,1082.3 235.1,1071.1C236.9,1060.0 237.9,1053.5 239.8,1040.0C241.6,1026.5 244.6,1001.4 246.1,990.0C247.6,978.6 247.8,977.9 248.7,971.9C249.6,965.8 250.2,959.8 251.3,953.7C252.4,947.7 254.1,941.2 255.4,935.6C256.7,929.9 256.9,929.3 259.1,920.0C261.2,910.7 265.8,887.4 268.2,880.0C270.6,872.6 271.4,879.3 273.3,875.6C275.3,871.8 277.4,863.0 280.0,857.8C282.6,852.6 285.9,847.6 288.9,844.4C291.9,841.3 295.2,840.0 297.8,838.9C300.4,837.8 302.2,837.6 304.4,837.8C306.7,838.0 309.3,838.9 311.1,840.0C313.0,841.1 313.7,844.3 315.6,844.4C317.4,844.6 319.6,840.4 322.2,841.1C324.8,841.9 328.5,846.9 331.1,848.9C333.7,850.9 335.9,851.5 337.8,853.3C339.6,855.2 340.7,858.9 342.2,860.0C343.7,861.1 344.4,859.3 346.7,860.0C348.9,860.7 352.6,863.0 355.6,864.4C358.5,865.9 361.1,867.0 364.4,868.9C367.8,870.7 372.4,874.3 375.6,875.6C378.7,876.9 380.7,873.3 383.3,876.7C385.9,880.0 388.3,888.3 391.1,895.6C393.9,902.8 397.0,913.3 400.0,920.0C403.0,926.7 406.3,928.9 408.9,935.6C411.5,942.2 413.7,956.3 415.6,960.0C417.4,963.7 418.5,956.7 420.0,957.8C421.5,958.9 422.2,961.9 424.4,966.7C426.7,971.5 430.7,980.4 433.3,986.7C435.9,993.0 437.8,998.1 440.0,1004.4C442.2,1010.7 444.4,1018.1 446.7,1024.4C448.9,1030.7 451.1,1038.5 453.3,1042.2C455.6,1045.9 457.8,1043.0 460.0,1046.7C462.2,1050.4 464.4,1059.3 466.7,1064.4C468.9,1069.6 471.1,1073.3 473.3,1077.8C475.6,1082.2 477.8,1088.5 480.0,1091.1C482.2,1093.7 485.0,1094.3 486.7,1093.3C488.3,1092.4 488.5,1084.4 490.0,1085.6C491.5,1086.7 493.5,1095.0 495.6,1100.0C497.6,1105.0 499.6,1112.2 502.2,1115.6C504.8,1118.9 508.1,1117.4 511.1,1120.0C514.1,1122.6 517.0,1128.1 520.0,1131.1C523.0,1134.1 525.9,1135.2 528.9,1137.8C531.9,1140.4 534.8,1143.0 537.8,1146.7C540.7,1150.4 544.1,1157.4 546.7,1160.0C549.3,1162.6 551.1,1162.2 553.3,1162.2C555.6,1162.2 557.4,1158.5 560.0,1160.0C562.6,1161.5 566.3,1169.6 568.9,1171.1C571.5,1172.6 573.0,1170.0 575.6,1168.9C578.1,1167.8 581.9,1163.0 584.4,1164.4C587.0,1165.9 588.5,1174.1 591.1,1177.8C593.7,1181.5 597.0,1184.8 600.0,1186.7C603.0,1188.5 606.3,1187.8 608.9,1188.9C611.5,1190.0 613.0,1194.1 615.6,1193.3C618.1,1192.6 621.9,1184.8 624.4,1184.4C627.0,1184.1 628.5,1188.5 631.1,1191.1C633.7,1193.7 637.4,1197.4 640.0,1200.0C642.6,1202.6 644.4,1204.8 646.7,1206.7C648.9,1208.5 651.1,1211.1 653.3,1211.1C655.6,1211.1 657.8,1207.0 660.0,1206.7C662.2,1206.3 664.1,1212.6 666.7,1208.9C669.3,1205.2 673.0,1190.0 675.6,1184.4C678.1,1178.9 679.6,1174.8 682.2,1175.6C684.8,1176.3 688.1,1186.7 691.1,1188.9C694.1,1191.1 697.9,1188.5 700.0,1188.9C702.1,1189.3 701.1,1190.7 703.7,1191.5C706.3,1192.3 712.0,1190.9 715.6,1193.9C719.1,1196.8 722.3,1203.9 725.0,1209.3C727.8,1214.6 729.4,1223.5 732.1,1225.9C734.9,1228.2 738.5,1223.9 741.6,1223.5C744.8,1223.1 748.0,1224.3 751.1,1223.5C754.3,1222.7 757.8,1218.0 760.6,1218.7C763.4,1219.5 765.1,1228.4 767.7,1228.2C770.3,1228.0 773.2,1217.2 776.0,1217.6C778.8,1218.0 781.3,1228.4 784.3,1230.6C787.3,1232.8 790.6,1229.8 793.8,1230.6C796.9,1231.4 800.1,1233.4 803.3,1235.3C806.4,1237.3 809.6,1238.5 812.7,1242.4C815.9,1246.4 819.1,1257.9 822.2,1259.0C825.4,1260.2 828.5,1250.3 831.7,1249.6C834.9,1248.8 838.0,1253.1 841.2,1254.3C844.3,1255.5 847.5,1255.1 850.7,1256.7C853.8,1258.2 857.0,1265.0 860.1,1263.8C863.3,1262.6 867.3,1253.1 869.6,1249.6C872.0,1246.0 872.4,1241.7 874.4,1242.4C876.3,1243.2 879.1,1251.1 881.5,1254.3C883.9,1257.5 886.2,1260.6 888.6,1261.4C891.0,1262.2 893.3,1260.2 895.7,1259.0C898.1,1257.9 900.0,1254.3 902.8,1254.3C905.6,1254.3 909.1,1258.2 912.3,1259.0C915.5,1259.8 918.6,1258.2 921.8,1259.0C924.9,1259.8 928.1,1261.4 931.3,1263.8C934.4,1266.1 938.0,1271.3 940.7,1273.3C943.5,1275.2 945.1,1271.7 947.9,1275.6C950.6,1279.6 954.6,1294.2 957.3,1297.0C960.1,1299.7 961.7,1293.0 964.4,1292.2C967.2,1291.4 970.8,1292.6 973.9,1292.2C977.1,1291.8 980.2,1289.9 983.4,1289.9C986.6,1289.9 990.1,1291.4 992.9,1292.2C995.7,1293.0 997.1,1295.0 1000.0,1294.6C1002.9,1294.2 1006.8,1290.8 1010.2,1289.8C1013.6,1288.8 1016.9,1288.3 1020.3,1288.5C1023.7,1288.7 1027.4,1290.2 1030.4,1291.0C1033.3,1291.9 1035.0,1293.8 1037.9,1293.6C1040.9,1293.3 1044.2,1290.2 1048.0,1289.8C1051.8,1289.4 1056.8,1291.0 1060.6,1291.0C1064.4,1291.0 1068.1,1288.7 1070.7,1289.8C1073.2,1290.8 1073.2,1296.3 1075.7,1297.3C1078.2,1298.4 1082.4,1295.4 1085.8,1296.1C1089.1,1296.7 1092.5,1301.1 1095.9,1301.1C1099.2,1301.1 1103.0,1297.3 1105.9,1296.1C1108.9,1294.8 1111.0,1291.9 1113.5,1293.6C1116.0,1295.2 1118.5,1303.6 1121.0,1306.1C1123.6,1308.7 1126.1,1309.5 1128.6,1308.7C1131.1,1307.8 1133.2,1302.4 1136.1,1301.1C1139.1,1299.9 1142.9,1302.0 1146.2,1301.1C1149.6,1300.3 1152.9,1296.1 1156.3,1296.1C1159.7,1296.1 1163.0,1300.7 1166.4,1301.1C1169.7,1301.5 1173.5,1299.0 1176.4,1298.6C1179.4,1298.2 1181.1,1297.3 1184.0,1298.6C1186.9,1299.9 1191.1,1305.7 1194.1,1306.1C1197.0,1306.6 1198.7,1304.3 1201.6,1301.1C1204.6,1298.0 1208.3,1288.1 1211.7,1287.3C1215.1,1286.4 1218.4,1294.6 1221.8,1296.1C1225.1,1297.5 1228.1,1295.2 1231.9,1296.1C1235.6,1296.9 1240.7,1301.3 1244.4,1301.1C1248.2,1300.9 1251.2,1296.5 1254.5,1294.8C1257.9,1293.1 1260.4,1292.9 1264.6,1291.0C1268.8,1289.1 1275.1,1285.2 1279.7,1283.5C1284.3,1281.8 1288.1,1282.2 1292.3,1281.0C1296.5,1279.7 1302.8,1276.8 1304.9,1275.9" fill="none" stroke="#00AC50" stroke-width="2.5" stroke-linejoin="round" stroke-linecap="round"/>
<path d="M123.1,1194.0C123.9,1193.2 126.0,1190.4 127.8,1189.3C129.6,1188.3 131.9,1187.3 134.0,1187.8C136.1,1188.3 138.4,1190.9 140.2,1192.4C142.0,1194.0 143.1,1195.3 144.9,1197.1C146.7,1198.9 149.3,1203.9 151.1,1203.3C152.9,1202.8 154.2,1197.4 155.8,1194.0C157.3,1190.6 158.9,1185.2 160.4,1183.1C162.0,1181.0 163.0,1181.3 165.1,1181.6C167.2,1181.8 170.8,1183.6 172.9,1184.7C175.0,1185.7 176.0,1188.3 177.6,1187.8C179.1,1187.3 180.7,1184.7 182.2,1181.6C183.8,1178.4 185.3,1175.1 186.9,1169.1C188.4,1163.1 190.0,1153.8 191.6,1145.8C193.1,1137.7 194.7,1129.2 196.2,1120.9C197.8,1112.6 199.5,1105.3 200.9,1096.0C202.3,1086.7 203.6,1075.0 204.8,1064.9C205.9,1054.8 206.4,1047.9 207.8,1035.6C209.2,1023.3 211.3,1004.8 213.3,991.1C215.4,977.4 217.8,966.3 220.0,953.3C222.2,940.4 224.4,925.6 226.7,913.3C228.9,901.1 231.5,886.1 233.3,880.0C235.2,873.9 235.6,877.4 237.8,876.7C240.0,875.9 244.4,876.5 246.7,875.6C248.9,874.6 249.6,874.4 251.1,871.1C252.6,867.8 253.7,861.9 255.6,855.6C257.4,849.3 260.4,837.0 262.2,833.3C264.1,829.6 264.6,831.7 266.7,833.3C268.7,835.0 272.2,842.2 274.4,843.3C276.7,844.4 278.0,843.1 280.0,840.0C282.0,836.9 284.8,829.6 286.7,824.4C288.5,819.3 289.8,812.0 291.1,808.9C292.4,805.7 293.0,804.8 294.4,805.6C295.9,806.3 298.1,811.1 300.0,813.3C301.9,815.6 303.5,817.8 305.6,818.9C307.6,820.0 310.2,820.4 312.2,820.0C314.3,819.6 315.7,815.6 317.8,816.7C319.8,817.8 322.4,825.7 324.4,826.7C326.5,827.6 328.0,824.1 330.0,822.2C332.0,820.4 334.3,816.1 336.7,815.6C339.1,815.0 342.0,816.7 344.4,818.9C346.9,821.1 348.5,824.3 351.1,828.9C353.7,833.5 357.4,840.7 360.0,846.7C362.6,852.6 364.1,857.8 366.7,864.4C369.3,871.1 372.6,879.3 375.6,886.7C378.5,894.1 381.9,902.2 384.4,908.9C387.0,915.6 388.9,920.7 391.1,926.7C393.3,932.6 395.2,937.8 397.8,944.4C400.4,951.1 404.4,962.6 406.7,966.7C408.9,970.7 409.3,966.7 411.1,968.9C413.0,971.1 416.3,977.8 417.8,980.0C419.3,982.2 419.3,981.5 420.0,982.2C420.7,983.0 420.0,983.7 422.2,984.4C424.4,985.2 430.0,984.4 433.3,986.7C436.7,988.9 439.6,996.3 442.2,997.8C444.8,999.3 446.3,994.8 448.9,995.6C451.5,996.3 454.8,999.3 457.8,1002.2C460.7,1005.2 463.7,1009.6 466.7,1013.3C469.6,1017.0 472.6,1020.7 475.6,1024.4C478.5,1028.1 481.5,1033.0 484.4,1035.6C487.4,1038.1 490.4,1037.8 493.3,1040.0C496.3,1042.2 499.6,1044.1 502.2,1048.9C504.8,1053.7 506.7,1064.8 508.9,1068.9C511.1,1073.0 512.6,1069.6 515.6,1073.3C518.5,1077.0 523.7,1087.8 526.7,1091.1C529.6,1094.4 530.7,1091.1 533.3,1093.3C535.9,1095.6 539.6,1102.2 542.2,1104.4C544.8,1106.7 546.3,1104.1 548.9,1106.7C551.5,1109.3 554.8,1115.2 557.8,1120.0C560.7,1124.8 563.7,1133.0 566.7,1135.6C569.6,1138.1 573.0,1135.9 575.6,1135.6C578.1,1135.2 579.6,1133.0 582.2,1133.3C584.8,1133.7 588.1,1135.9 591.1,1137.8C594.1,1139.6 597.0,1142.2 600.0,1144.4C603.0,1146.7 606.7,1150.4 608.9,1151.1C611.1,1151.9 611.1,1147.0 613.3,1148.9C615.6,1150.7 618.9,1157.4 622.2,1162.2C625.6,1167.0 630.0,1173.7 633.3,1177.8C636.7,1181.9 639.3,1184.8 642.2,1186.7C645.2,1188.5 648.5,1188.5 651.1,1188.9C653.7,1189.3 655.2,1185.9 657.8,1188.9C660.4,1191.9 663.3,1201.1 666.7,1206.7C670.0,1212.2 674.1,1220.0 677.8,1222.2C681.5,1224.4 685.2,1220.2 688.9,1220.0C692.6,1219.8 697.5,1219.7 700.0,1221.1C702.5,1222.5 701.9,1224.7 703.7,1228.2C705.5,1231.8 708.0,1240.1 710.8,1242.4C713.6,1244.8 717.5,1244.0 720.3,1242.4C723.1,1240.9 725.0,1233.0 727.4,1233.0C729.8,1233.0 732.1,1238.9 734.5,1242.4C736.9,1246.0 738.9,1250.7 741.6,1254.3C744.4,1257.9 748.0,1263.8 751.1,1263.8C754.3,1263.8 757.4,1256.7 760.6,1254.3C763.8,1251.9 766.9,1248.8 770.1,1249.6C773.2,1250.3 776.4,1255.5 779.6,1259.0C782.7,1262.6 785.9,1270.5 789.0,1270.9C792.2,1271.3 795.4,1261.8 798.5,1261.4C801.7,1261.0 804.8,1267.3 808.0,1268.5C811.2,1269.7 814.3,1268.1 817.5,1268.5C820.6,1268.9 823.8,1269.7 827.0,1270.9C830.1,1272.1 833.3,1274.4 836.4,1275.6C839.6,1276.8 842.8,1277.6 845.9,1278.0C849.1,1278.4 852.2,1277.2 855.4,1278.0C858.6,1278.8 861.7,1282.0 864.9,1282.7C868.0,1283.5 871.2,1282.3 874.4,1282.7C877.5,1283.1 880.7,1285.5 883.9,1285.1C887.0,1284.7 889.8,1281.2 893.3,1280.4C896.9,1279.6 901.2,1278.4 905.2,1280.4C909.1,1282.3 913.5,1291.0 917.0,1292.2C920.6,1293.4 923.4,1289.1 926.5,1287.5C929.7,1285.9 933.2,1283.5 936.0,1282.7C938.8,1282.0 940.3,1282.0 943.1,1282.7C945.9,1283.5 949.8,1286.7 952.6,1287.5C955.4,1288.3 956.9,1287.9 959.7,1287.5C962.5,1287.1 966.0,1285.5 969.2,1285.1C972.3,1284.7 975.5,1283.9 978.7,1285.1C981.8,1286.3 984.6,1290.6 988.1,1292.2C991.7,1293.8 997.6,1294.0 1000.0,1294.6C1002.4,1295.2 1001.0,1296.7 1002.7,1296.1C1004.4,1295.5 1007.3,1291.9 1010.2,1291.0C1013.2,1290.2 1016.9,1290.6 1020.3,1291.0C1023.7,1291.5 1027.0,1291.9 1030.4,1293.6C1033.7,1295.2 1037.1,1303.2 1040.4,1301.1C1043.8,1299.0 1047.2,1283.1 1050.5,1281.0C1053.9,1278.9 1057.2,1287.7 1060.6,1288.5C1064.0,1289.4 1067.7,1287.3 1070.7,1286.0C1073.6,1284.7 1075.7,1281.4 1078.2,1281.0C1080.7,1280.5 1082.4,1281.8 1085.8,1283.5C1089.1,1285.2 1094.6,1289.4 1098.4,1291.0C1102.1,1292.7 1105.1,1295.4 1108.4,1293.6C1111.8,1291.7 1115.6,1281.4 1118.5,1279.7C1121.5,1278.0 1123.6,1280.8 1126.1,1283.5C1128.6,1286.2 1130.7,1294.8 1133.6,1296.1C1136.6,1297.3 1139.9,1292.7 1143.7,1291.0C1147.5,1289.4 1151.7,1285.6 1156.3,1286.0C1160.9,1286.4 1167.2,1293.6 1171.4,1293.6C1175.6,1293.6 1178.1,1288.3 1181.5,1286.0C1184.8,1283.7 1188.2,1279.7 1191.6,1279.7C1194.9,1279.7 1198.3,1284.7 1201.6,1286.0C1205.0,1287.3 1207.9,1289.6 1211.7,1287.3C1215.5,1285.0 1220.9,1273.2 1224.3,1272.1C1227.7,1271.1 1228.9,1278.2 1231.9,1281.0C1234.8,1283.7 1238.6,1288.9 1241.9,1288.5C1245.3,1288.1 1248.9,1282.0 1252.0,1278.4C1255.1,1274.9 1257.9,1266.7 1260.8,1267.1C1263.8,1267.5 1266.5,1277.8 1269.6,1281.0C1272.8,1284.1 1275.9,1287.5 1279.7,1286.0C1283.5,1284.5 1288.1,1273.4 1292.3,1272.1C1296.5,1270.9 1302.8,1277.4 1304.9,1278.4" fill="none" stroke="#0868BA" stroke-width="2.5" stroke-linejoin="round" stroke-linecap="round"/>
<path d="M123.1,1190.1C124.1,1190.0 127.3,1189.3 129.3,1189.3C131.4,1189.3 133.5,1189.6 135.6,1190.1C137.6,1190.6 139.2,1191.5 141.8,1192.4C144.4,1193.4 148.0,1194.8 151.1,1195.6C154.2,1196.3 157.3,1196.9 160.4,1197.1C163.6,1197.4 166.7,1197.4 169.8,1197.1C172.9,1196.9 176.3,1196.3 179.1,1195.6C182.0,1194.8 184.3,1193.5 186.9,1192.4C189.5,1191.4 191.8,1190.4 194.7,1189.3C197.5,1188.3 201.1,1187.3 204.0,1186.2C206.9,1185.2 209.4,1184.7 211.8,1183.1C214.1,1181.6 215.9,1181.0 218.0,1176.9C220.1,1172.7 222.1,1165.0 224.2,1158.2C226.3,1151.5 228.4,1144.2 230.4,1136.4C232.5,1128.7 234.6,1119.3 236.7,1111.6C238.7,1103.8 241.1,1097.6 242.9,1089.8C244.7,1082.0 246.0,1073.2 247.6,1064.9C249.1,1056.6 250.9,1048.2 252.2,1040.0C253.6,1031.8 253.9,1023.3 255.6,1015.6C257.2,1007.8 260.9,997.6 262.2,993.3C263.5,989.1 262.5,992.3 263.2,990.0C264.0,987.7 265.8,983.1 266.9,979.6C267.9,976.2 268.6,972.6 269.4,969.3C270.3,965.9 271.2,962.1 272.0,959.4C272.9,956.7 273.6,955.3 274.6,953.2C275.7,951.1 277.0,948.5 278.3,947.0C279.5,945.4 280.8,944.7 281.9,943.9C283.0,943.0 283.8,942.8 285.0,941.8C286.2,940.8 286.8,938.6 288.9,937.8C291.0,936.9 294.4,936.9 297.8,936.7C301.1,936.5 305.6,935.7 308.9,936.7C312.2,937.6 314.1,939.1 317.8,942.2C321.5,945.4 327.4,951.9 331.1,955.6C334.8,959.3 336.7,962.0 340.0,964.4C343.3,966.9 347.8,968.5 351.1,970.0C354.4,971.5 356.3,971.3 360.0,973.3C363.7,975.4 369.3,978.9 373.3,982.2C377.4,985.6 380.7,990.0 384.4,993.3C388.1,996.7 391.5,1000.4 395.6,1002.2C399.6,1004.1 404.8,1003.3 408.9,1004.4C413.0,1005.6 417.8,1008.1 420.0,1008.9C422.2,1009.6 420.0,1007.4 422.2,1008.9C424.4,1010.4 429.6,1015.2 433.3,1017.8C437.0,1020.4 440.4,1022.4 444.4,1024.4C448.5,1026.5 452.6,1028.5 457.8,1030.0C463.0,1031.5 469.6,1031.3 475.6,1033.3C481.5,1035.4 488.1,1040.0 493.3,1042.2C498.5,1044.4 501.9,1045.6 506.7,1046.7C511.5,1047.8 517.8,1047.8 522.2,1048.9C526.7,1050.0 529.6,1051.5 533.3,1053.3C537.0,1055.2 540.7,1057.8 544.4,1060.0C548.1,1062.2 551.9,1063.7 555.6,1066.7C559.3,1069.6 563.0,1073.7 566.7,1077.8C570.4,1081.9 574.4,1086.7 577.8,1091.1C581.1,1095.6 583.7,1100.0 586.7,1104.4C589.6,1108.9 593.0,1113.3 595.6,1117.8C598.1,1122.2 599.6,1126.7 602.2,1131.1C604.8,1135.6 608.1,1140.0 611.1,1144.4C614.1,1148.9 617.0,1153.7 620.0,1157.8C623.0,1161.9 625.9,1165.2 628.9,1168.9C631.9,1172.6 634.8,1176.3 637.8,1180.0C640.7,1183.7 643.7,1187.8 646.7,1191.1C649.6,1194.4 652.6,1197.0 655.6,1200.0C658.5,1203.0 661.5,1206.3 664.4,1208.9C667.4,1211.5 670.4,1213.3 673.3,1215.6C676.3,1217.8 679.3,1220.0 682.2,1222.2C685.2,1224.4 688.1,1227.4 691.1,1228.9C694.1,1230.4 697.1,1230.4 700.0,1231.1C702.9,1231.8 703.9,1231.7 708.4,1233.0C713.0,1234.3 721.1,1237.7 727.4,1238.9C733.7,1240.1 740.0,1239.9 746.4,1240.1C752.7,1240.3 759.0,1240.1 765.3,1240.1C771.7,1240.1 778.0,1240.1 784.3,1240.1C790.6,1240.1 796.9,1240.3 803.3,1240.1C809.6,1239.9 815.9,1239.1 822.2,1238.9C828.5,1238.7 834.9,1239.1 841.2,1238.9C847.5,1238.7 853.8,1237.9 860.1,1237.7C866.5,1237.5 872.8,1237.9 879.1,1237.7C885.4,1237.5 891.8,1236.9 898.1,1236.5C904.4,1236.1 910.7,1235.7 917.0,1235.3C923.4,1234.9 929.7,1234.7 936.0,1234.1C942.3,1233.6 948.6,1232.2 955.0,1231.8C961.3,1231.4 968.4,1231.8 973.9,1231.8C979.5,1231.8 983.8,1231.8 988.1,1231.8C992.5,1231.8 997.2,1232.0 1000.0,1231.8C1002.8,1231.6 1000.1,1231.0 1005.2,1230.6C1010.2,1230.2 1022.0,1229.5 1030.4,1229.3C1038.8,1229.1 1047.2,1229.5 1055.6,1229.3C1064.0,1229.1 1072.3,1228.3 1080.7,1228.1C1089.1,1227.9 1097.5,1228.3 1105.9,1228.1C1114.3,1227.9 1122.7,1227.2 1131.1,1226.8C1139.5,1226.4 1147.9,1225.8 1156.3,1225.6C1164.7,1225.3 1173.1,1225.8 1181.5,1225.6C1189.9,1225.3 1198.3,1224.5 1206.7,1224.3C1215.1,1224.1 1223.5,1224.3 1231.9,1224.3C1240.2,1224.3 1248.6,1224.3 1257.0,1224.3C1265.4,1224.3 1274.2,1224.5 1282.2,1224.3C1290.2,1224.1 1301.1,1223.2 1304.9,1223.0" fill="none" stroke="#FFC000" stroke-width="2.5" stroke-linejoin="round" stroke-linecap="round"/>
<line x1="122.4" y1="750.5" x2="122.4" y2="1409.3" stroke="#000" stroke-width="2.2"/>
<line x1="122.4" y1="1189.7" x2="1304.1" y2="1189.7" stroke="#000" stroke-width="2.2"/>
<line x1="290.3" y1="1484.4" x2="290.3" y2="2143.2" stroke="#D9D9D9" stroke-width="2.2"/>
<line x1="458.6" y1="1484.4" x2="458.6" y2="2143.2" stroke="#D9D9D9" stroke-width="2.2"/>
<line x1="627.0" y1="1484.4" x2="627.0" y2="2143.2" stroke="#D9D9D9" stroke-width="2.2"/>
<line x1="795.3" y1="1484.4" x2="795.3" y2="2143.2" stroke="#D9D9D9" stroke-width="2.2"/>
<line x1="963.7" y1="1484.4" x2="963.7" y2="2143.2" stroke="#D9D9D9" stroke-width="2.2"/>
<line x1="1132.1" y1="1484.4" x2="1132.1" y2="2143.2" stroke="#D9D9D9" stroke-width="2.2"/>
<line x1="1300.4" y1="1484.4" x2="1300.4" y2="2143.2" stroke="#D9D9D9" stroke-width="2.2"/>
<text x="93.5" y="1493.7" text-anchor="end" font-size="28.8" fill="#595959" textLength="51.6" lengthAdjust="spacingAndGlyphs">0.06</text>
<text x="93.5" y="1566.9" text-anchor="end" font-size="28.8" fill="#595959" textLength="51.6" lengthAdjust="spacingAndGlyphs">0.05</text>
<text x="93.5" y="1640.1" text-anchor="end" font-size="28.8" fill="#595959" textLength="51.6" lengthAdjust="spacingAndGlyphs">0.04</text>
<text x="93.5" y="1713.3" text-anchor="end" font-size="28.8" fill="#595959" textLength="51.6" lengthAdjust="spacingAndGlyphs">0.03</text>
<text x="93.5" y="1786.5" text-anchor="end" font-size="28.8" fill="#595959" textLength="51.6" lengthAdjust="spacingAndGlyphs">0.02</text>
<text x="93.5" y="1859.7" text-anchor="end" font-size="28.8" fill="#595959" textLength="51.6" lengthAdjust="spacingAndGlyphs">0.01</text>
<text x="93.5" y="1932.9" text-anchor="end" font-size="28.8" fill="#595959" textLength="14.7" lengthAdjust="spacingAndGlyphs">0</text>
<text x="93.5" y="2152.5" text-anchor="end" font-size="28.8" fill="#595959" textLength="60.4" lengthAdjust="spacingAndGlyphs">-0.03</text>
<text x="121.9" y="1972.1" text-anchor="middle" font-size="28.8" fill="#595959" textLength="14.7" lengthAdjust="spacingAndGlyphs">0</text>
<text x="290.3" y="1972.1" text-anchor="middle" font-size="28.8" fill="#595959" textLength="36.8" lengthAdjust="spacingAndGlyphs">0.1</text>
<text x="458.6" y="1972.1" text-anchor="middle" font-size="28.8" fill="#595959" textLength="36.8" lengthAdjust="spacingAndGlyphs">0.2</text>
<text x="627.0" y="1972.1" text-anchor="middle" font-size="28.8" fill="#595959" textLength="36.8" lengthAdjust="spacingAndGlyphs">0.3</text>
<text x="795.3" y="1972.1" text-anchor="middle" font-size="28.8" fill="#595959" textLength="36.8" lengthAdjust="spacingAndGlyphs">0.4</text>
<text x="963.7" y="1972.1" text-anchor="middle" font-size="28.8" fill="#595959" textLength="36.8" lengthAdjust="spacingAndGlyphs">0.5</text>
<text x="1132.1" y="1972.1" text-anchor="middle" font-size="28.8" fill="#595959" textLength="36.8" lengthAdjust="spacingAndGlyphs">0.6</text>
<text x="1300.4" y="1972.1" text-anchor="middle" font-size="28.8" fill="#595959" textLength="36.8" lengthAdjust="spacingAndGlyphs">0.7</text>
<text x="2.0" y="1494.8" font-size="33" font-weight="bold" fill="#000">C</text>
<path d="M125.2,2055.9 V2027.9 H290.0 V2068.3 H919.0" fill="none" stroke="#7F7F7F" stroke-width="4.2" stroke-linejoin="round"/>
<text x="51.0" y="2035.8" font-size="24" font-weight="bold" fill="#000">on</text>
<text x="51.0" y="2081.4" font-size="24" font-weight="bold" fill="#000">off</text>
<line x1="633.0" y1="1534.0" x2="697.7" y2="1534.0" stroke="#6228A0" stroke-width="2.5"/>
<text x="704.8" y="1542.4" font-size="28.8" fill="#595959" textLength="35.7" lengthAdjust="spacingAndGlyphs">UV</text>
<line x1="753.6" y1="1534.0" x2="818.3" y2="1534.0" stroke="#0868BA" stroke-width="2.5"/>
<text x="826.6" y="1542.4" font-size="28.8" fill="#595959" textLength="52.0" lengthAdjust="spacingAndGlyphs">Blue</text>
<line x1="892.3" y1="1534.0" x2="956.5" y2="1534.0" stroke="#00AC50" stroke-width="2.5"/>
<text x="963.6" y="1542.4" font-size="28.8" fill="#595959" textLength="74.0" lengthAdjust="spacingAndGlyphs">Green</text>
<line x1="1051.3" y1="1534.0" x2="1117.1" y2="1534.0" stroke="#FFC000" stroke-width="2.5"/>
<text x="1123.7" y="1542.4" font-size="28.8" fill="#595959" textLength="79.5" lengthAdjust="spacingAndGlyphs">Yellow</text>
<line x1="1217.5" y1="1534.0" x2="1281.6" y2="1534.0" stroke="#C00000" stroke-width="2.5"/>
<text x="1288.7" y="1542.4" font-size="28.8" fill="#595959" textLength="46.1" lengthAdjust="spacingAndGlyphs">Red</text>
<path d="M123.1,1918.7C124.1,1918.9 127.3,1919.7 129.3,1920.2C131.4,1920.7 133.5,1922.6 135.6,1921.8C137.6,1921.0 139.7,1917.1 141.8,1915.6C143.9,1914.0 145.9,1912.7 148.0,1912.4C150.1,1912.2 152.4,1914.4 154.2,1914.0C156.0,1913.6 157.1,1910.1 158.9,1910.1C160.7,1910.1 163.0,1913.6 165.1,1914.0C167.2,1914.4 169.3,1913.2 171.3,1912.4C173.4,1911.7 175.5,1909.1 177.6,1909.3C179.6,1909.6 181.7,1913.0 183.8,1914.0C185.9,1915.0 187.9,1915.6 190.0,1915.6C192.1,1915.6 194.1,1914.3 196.2,1914.0C198.3,1913.7 200.4,1913.7 202.4,1914.0C204.5,1914.3 206.9,1913.7 208.7,1915.6C210.5,1917.4 212.0,1919.7 213.3,1924.9C214.6,1930.1 215.4,1942.0 216.4,1946.7C217.5,1951.3 218.5,1954.2 219.6,1952.9C220.6,1951.6 221.4,1945.6 222.7,1938.9C224.0,1932.1 226.0,1918.1 227.3,1912.4C228.6,1906.7 229.1,1902.6 230.4,1904.7C231.7,1906.7 233.6,1920.0 235.1,1924.9C236.7,1929.8 238.2,1930.9 239.8,1934.2C241.3,1937.6 242.9,1945.6 244.4,1945.1C246.0,1944.6 247.6,1939.1 249.1,1931.1C250.7,1923.1 252.0,1905.7 253.8,1896.9C255.6,1888.1 257.9,1881.9 260.0,1878.2C262.1,1874.6 264.1,1876.1 266.2,1875.1C268.3,1874.1 270.4,1874.6 272.4,1872.0C274.5,1869.4 276.6,1862.4 278.7,1859.6C280.7,1856.7 282.8,1857.5 284.9,1854.9C287.0,1852.3 288.8,1846.3 291.1,1844.0C293.4,1841.7 296.8,1842.7 298.9,1840.9C301.0,1839.1 301.7,1837.0 303.6,1833.1C305.4,1829.2 307.4,1823.8 309.8,1817.6C312.1,1811.3 315.5,1802.5 317.6,1795.8C319.6,1789.0 320.9,1783.1 322.2,1777.1C323.5,1771.1 324.2,1765.4 325.3,1760.0C326.4,1754.6 327.2,1750.7 328.9,1744.4C330.6,1738.1 333.7,1727.0 335.6,1722.2C337.4,1717.4 338.1,1714.8 340.0,1715.6C341.9,1716.3 344.4,1729.3 346.7,1726.7C348.9,1724.1 351.1,1708.5 353.3,1700.0C355.6,1691.5 357.8,1681.1 360.0,1675.6C362.2,1670.0 364.4,1671.1 366.7,1666.7C368.9,1662.2 371.1,1653.3 373.3,1648.9C375.6,1644.4 377.8,1642.6 380.0,1640.0C382.2,1637.4 384.4,1635.6 386.7,1633.3C388.9,1631.1 391.1,1628.9 393.3,1626.7C395.6,1624.4 397.8,1622.4 400.0,1620.0C402.2,1617.6 404.8,1611.5 406.7,1612.2C408.5,1613.0 409.6,1619.8 411.1,1624.4C412.6,1629.1 414.1,1640.7 415.6,1640.0C417.0,1639.3 418.1,1627.4 420.0,1620.0C421.9,1612.6 424.4,1599.8 426.7,1595.6C428.9,1591.3 431.1,1595.9 433.3,1594.4C435.6,1593.0 437.8,1588.9 440.0,1586.7C442.2,1584.4 444.1,1580.9 446.7,1581.1C449.3,1581.3 453.0,1586.5 455.6,1587.8C458.1,1589.1 459.6,1586.9 462.2,1588.9C464.8,1590.9 468.1,1598.9 471.1,1600.0C474.1,1601.1 477.6,1596.9 480.0,1595.6C482.4,1594.3 484.1,1591.5 485.6,1592.2C487.0,1593.0 487.6,1593.9 488.9,1600.0C490.2,1606.1 492.0,1622.0 493.3,1628.9C494.6,1635.7 495.2,1643.7 496.7,1641.1C498.1,1638.5 500.6,1618.7 502.2,1613.3C503.9,1608.0 505.2,1607.0 506.7,1608.9C508.1,1610.7 509.3,1618.0 511.1,1624.4C513.0,1630.9 515.6,1647.0 517.8,1647.8C520.0,1648.5 522.6,1634.4 524.4,1628.9C526.3,1623.3 526.7,1615.6 528.9,1614.4C531.1,1613.3 534.8,1620.6 537.8,1622.2C540.7,1623.9 543.7,1622.6 546.7,1624.4C549.6,1626.3 552.2,1630.4 555.6,1633.3C558.9,1636.3 563.3,1639.3 566.7,1642.2C570.0,1645.2 573.0,1646.7 575.6,1651.1C578.1,1655.6 580.6,1663.7 582.2,1668.9C583.9,1674.1 584.4,1678.5 585.6,1682.2C586.7,1685.9 587.4,1692.6 588.9,1691.1C590.4,1689.6 592.6,1677.8 594.4,1673.3C596.3,1668.9 597.6,1663.7 600.0,1664.4C602.4,1665.2 605.9,1673.3 608.9,1677.8C611.9,1682.2 614.8,1688.5 617.8,1691.1C620.7,1693.7 623.7,1692.2 626.7,1693.3C629.6,1694.4 633.1,1697.0 635.6,1697.8C638.0,1698.5 639.3,1699.6 641.1,1697.8C643.0,1695.9 644.3,1692.6 646.7,1686.7C649.1,1680.7 652.2,1668.9 655.6,1662.2C658.9,1655.6 663.3,1649.6 666.7,1646.7C670.0,1643.7 673.0,1645.4 675.6,1644.4C678.1,1643.5 679.6,1639.3 682.2,1641.1C684.8,1643.0 688.1,1650.6 691.1,1655.6C694.1,1660.6 697.5,1667.0 700.0,1671.1C702.5,1675.2 703.9,1677.3 706.1,1680.0C708.3,1682.7 710.8,1687.1 713.2,1687.1C715.6,1687.1 716.7,1681.2 720.3,1680.0C723.9,1678.8 730.6,1679.2 734.5,1680.0C738.5,1680.8 740.8,1683.2 744.0,1684.7C747.2,1686.3 749.9,1689.9 753.5,1689.5C757.0,1689.1 761.8,1683.2 765.3,1682.4C768.9,1681.6 771.7,1682.0 774.8,1684.7C778.0,1687.5 781.5,1694.6 784.3,1699.0C787.1,1703.3 789.4,1705.3 791.4,1710.8C793.4,1716.3 795.0,1725.4 796.1,1732.1C797.3,1738.9 797.3,1746.0 798.5,1751.1C799.7,1756.2 801.7,1758.2 803.3,1763.0C804.8,1767.7 806.2,1771.7 808.0,1779.6C809.8,1787.5 812.1,1808.0 813.9,1810.4C815.7,1812.7 817.3,1798.5 818.7,1793.8C820.0,1789.0 820.6,1781.9 822.2,1781.9C823.8,1781.9 826.2,1790.2 828.1,1793.8C830.1,1797.3 831.9,1798.9 834.1,1803.3C836.2,1807.6 838.8,1813.1 841.2,1819.9C843.6,1826.6 846.3,1841.6 848.3,1843.6C850.3,1845.5 851.1,1837.2 853.0,1831.7C855.0,1826.2 857.8,1812.0 860.1,1810.4C862.5,1808.8 865.3,1815.5 867.3,1822.2C869.2,1828.9 870.4,1843.2 872.0,1850.7C873.6,1858.2 875.2,1866.9 876.7,1867.3C878.3,1867.7 879.5,1856.6 881.5,1853.0C883.5,1849.5 885.8,1846.3 888.6,1845.9C891.4,1845.5 894.9,1848.3 898.1,1850.7C901.2,1853.0 904.4,1857.4 907.6,1860.1C910.7,1862.9 913.9,1865.3 917.0,1867.3C920.2,1869.2 923.4,1868.8 926.5,1872.0C929.7,1875.2 932.8,1881.5 936.0,1886.2C939.2,1891.0 942.3,1895.7 945.5,1900.4C948.6,1905.2 951.8,1911.5 955.0,1914.7C958.1,1917.8 961.3,1917.4 964.4,1919.4C967.6,1921.4 970.8,1923.4 973.9,1926.5C977.1,1929.7 980.2,1934.8 983.4,1938.4C986.6,1941.9 990.5,1944.3 992.9,1947.9C995.3,1951.4 996.4,1955.8 997.6,1959.7C998.8,1963.7 998.5,1965.3 1000.0,1971.6C1001.5,1977.8 1003.9,1997.8 1006.4,1997.3C1009.0,1996.7 1012.5,1971.9 1015.3,1968.3C1018.0,1964.7 1019.9,1972.9 1022.8,1975.9C1025.8,1978.8 1029.5,1983.4 1032.9,1985.9C1036.2,1988.4 1039.6,1988.9 1043.0,1991.0C1046.3,1993.1 1050.1,1991.8 1053.0,1998.5C1056.0,2005.2 1058.9,2024.3 1060.6,2031.3C1062.3,2038.2 1061.2,2044.1 1063.1,2040.1C1065.0,2036.1 1069.0,2005.0 1071.9,2007.3C1074.9,2009.6 1078.4,2049.9 1080.7,2053.9C1083.0,2057.9 1083.7,2037.1 1085.8,2031.3C1087.9,2025.4 1090.4,2018.5 1093.3,2018.7C1096.3,2018.9 1100.0,2030.2 1103.4,2032.5C1106.8,2034.8 1110.1,2031.9 1113.5,2032.5C1116.8,2033.1 1120.6,2035.2 1123.6,2036.3C1126.5,2037.3 1128.8,2034.2 1131.1,2038.8C1133.4,2043.4 1135.5,2055.6 1137.4,2064.0C1139.3,2072.4 1140.6,2090.0 1142.4,2089.2C1144.3,2088.3 1146.9,2065.3 1148.7,2059.0C1150.6,2052.7 1150.8,2052.7 1153.8,2051.4C1156.7,2050.1 1162.6,2052.0 1166.4,2051.4C1170.1,2050.8 1173.1,2047.4 1176.4,2047.6C1179.8,2047.8 1182.7,2051.4 1186.5,2052.7C1190.3,2053.9 1195.5,2055.6 1199.1,2055.2C1202.7,2054.8 1204.1,2049.5 1207.9,2050.1C1211.7,2050.8 1217.8,2058.8 1221.8,2059.0C1225.8,2059.2 1228.1,2053.3 1231.9,2051.4C1235.6,2049.5 1240.2,2049.1 1244.4,2047.6C1248.6,2046.2 1253.7,2042.8 1257.0,2042.6C1260.4,2042.4 1261.7,2046.8 1264.6,2046.4C1267.5,2046.0 1271.3,2042.0 1274.7,2040.1C1278.0,2038.2 1281.8,2035.5 1284.7,2035.0C1287.7,2034.6 1289.6,2038.0 1292.3,2037.6C1295.0,2037.1 1299.6,2033.4 1301.1,2032.5" fill="none" stroke="#6228A0" stroke-width="2.5" stroke-linejoin="round" stroke-linecap="round"/>
<path d="M123.1,1854.9C123.9,1855.1 126.2,1854.6 127.8,1856.4C129.3,1858.3 130.9,1863.2 132.4,1865.8C134.0,1868.4 135.6,1873.0 137.1,1872.0C138.7,1871.0 140.2,1862.4 141.8,1859.6C143.3,1856.7 144.9,1854.4 146.4,1854.9C148.0,1855.4 149.3,1859.9 151.1,1862.7C152.9,1865.4 155.5,1870.4 157.3,1871.2C159.1,1872.0 160.4,1868.8 162.0,1867.3C163.6,1865.9 164.9,1864.2 166.7,1862.7C168.5,1861.1 170.3,1859.8 172.9,1858.0C175.5,1856.2 179.1,1854.0 182.2,1851.8C185.3,1849.6 189.2,1845.3 191.6,1844.8C193.9,1844.3 194.1,1845.7 196.2,1848.7C198.3,1851.6 201.9,1858.3 204.0,1862.7C206.1,1867.1 207.1,1871.5 208.7,1875.1C210.2,1878.7 211.8,1884.4 213.3,1884.4C214.9,1884.4 216.4,1879.0 218.0,1875.1C219.6,1871.2 221.1,1864.7 222.7,1861.1C224.2,1857.5 225.8,1853.1 227.3,1853.3C228.9,1853.6 230.6,1859.7 232.0,1862.7C233.4,1865.6 234.6,1873.8 235.9,1871.2C237.2,1868.6 238.4,1855.3 239.8,1847.1C241.2,1838.9 242.9,1827.8 244.4,1822.2C246.0,1816.6 247.3,1814.4 249.1,1813.7C250.9,1812.9 253.5,1817.9 255.3,1817.6C257.1,1817.2 258.2,1813.7 260.0,1811.3C261.8,1809.0 264.1,1806.1 266.2,1803.6C268.3,1801.0 270.6,1799.1 272.4,1795.8C274.3,1792.4 275.6,1788.0 277.1,1783.3C278.7,1778.7 280.5,1771.7 281.8,1767.8C283.1,1763.9 283.7,1763.9 284.9,1760.0C286.1,1756.1 287.1,1749.6 288.9,1744.4C290.7,1739.3 293.3,1732.2 295.6,1728.9C297.8,1725.6 300.0,1727.4 302.2,1724.4C304.4,1721.5 306.7,1714.8 308.9,1711.1C311.1,1707.4 313.3,1705.6 315.6,1702.2C317.8,1698.9 320.0,1696.7 322.2,1691.1C324.4,1685.6 326.7,1675.9 328.9,1668.9C331.1,1661.9 333.3,1654.1 335.6,1648.9C337.8,1643.7 340.0,1642.6 342.2,1637.8C344.4,1633.0 346.7,1622.4 348.9,1620.0C351.1,1617.6 353.3,1624.4 355.6,1623.3C357.8,1622.2 360.0,1615.7 362.2,1613.3C364.4,1610.9 366.3,1611.7 368.9,1608.9C371.5,1606.1 375.4,1598.0 377.8,1596.7C380.2,1595.4 381.9,1602.8 383.3,1601.1C384.8,1599.4 385.4,1592.4 386.7,1586.7C388.0,1580.9 389.3,1571.1 391.1,1566.7C393.0,1562.2 395.7,1561.3 397.8,1560.0C399.8,1558.7 401.5,1560.4 403.3,1558.9C405.2,1557.4 407.0,1553.0 408.9,1551.1C410.7,1549.3 412.6,1547.0 414.4,1547.8C416.3,1548.5 418.7,1551.7 420.0,1555.6C421.3,1559.4 421.1,1566.3 422.2,1571.1C423.3,1575.9 425.2,1585.6 426.7,1584.4C428.1,1583.3 429.3,1570.0 431.1,1564.4C433.0,1558.9 435.2,1553.9 437.8,1551.1C440.4,1548.3 444.1,1546.3 446.7,1547.8C449.3,1549.3 451.5,1556.5 453.3,1560.0C455.2,1563.5 456.3,1568.1 457.8,1568.9C459.3,1569.6 460.4,1562.2 462.2,1564.4C464.1,1566.7 466.7,1583.0 468.9,1582.2C471.1,1581.5 473.5,1566.1 475.6,1560.0C477.6,1553.9 479.3,1545.9 481.1,1545.6C483.0,1545.2 485.0,1553.1 486.7,1557.8C488.3,1562.4 489.6,1571.5 491.1,1573.3C492.6,1575.2 493.9,1572.0 495.6,1568.9C497.2,1565.7 499.3,1554.1 501.1,1554.4C503.0,1554.8 505.2,1567.0 506.7,1571.1C508.1,1575.2 508.5,1581.1 510.0,1578.9C511.5,1576.7 513.7,1562.2 515.6,1557.8C517.4,1553.3 518.9,1551.9 521.1,1552.2C523.3,1552.6 526.5,1558.0 528.9,1560.0C531.3,1562.0 533.0,1564.3 535.6,1564.4C538.1,1564.6 541.5,1560.7 544.4,1561.1C547.4,1561.5 550.4,1565.0 553.3,1566.7C556.3,1568.3 559.3,1570.4 562.2,1571.1C565.2,1571.9 568.9,1569.3 571.1,1571.1C573.3,1573.0 573.9,1577.2 575.6,1582.2C577.2,1587.2 578.9,1599.3 581.1,1601.1C583.3,1603.0 585.7,1593.5 588.9,1593.3C592.0,1593.1 596.3,1596.3 600.0,1600.0C603.7,1603.7 607.4,1610.0 611.1,1615.6C614.8,1621.1 618.9,1627.4 622.2,1633.3C625.6,1639.3 628.1,1643.7 631.1,1651.1C634.1,1658.5 637.8,1669.6 640.0,1677.8C642.2,1685.9 643.0,1697.0 644.4,1700.0C645.9,1703.0 647.0,1697.4 648.9,1695.6C650.7,1693.7 653.0,1689.4 655.6,1688.9C658.1,1688.3 661.9,1691.9 664.4,1692.2C667.0,1692.6 668.9,1691.3 671.1,1691.1C673.3,1690.9 675.6,1690.0 677.8,1691.1C680.0,1692.2 682.2,1696.3 684.4,1697.8C686.7,1699.3 689.3,1697.4 691.1,1700.0C693.0,1702.6 694.1,1707.8 695.6,1713.3C697.0,1718.9 699.0,1729.4 700.0,1733.3C701.0,1737.3 700.3,1739.1 701.3,1736.9C702.3,1734.7 704.3,1725.8 706.1,1720.3C707.9,1714.8 710.2,1704.1 712.0,1703.7C713.8,1703.3 715.2,1713.2 716.7,1717.9C718.3,1722.7 719.3,1731.4 721.5,1732.1C723.7,1732.9 727.2,1723.1 729.8,1722.7C732.3,1722.3 734.1,1726.6 736.9,1729.8C739.7,1732.9 743.2,1738.5 746.4,1741.6C749.5,1744.8 753.1,1747.4 755.9,1748.7C758.6,1750.1 760.2,1750.1 763.0,1749.9C765.7,1749.7 769.3,1747.0 772.4,1747.6C775.6,1748.1 779.6,1750.9 781.9,1753.5C784.3,1756.0 785.1,1758.2 786.7,1763.0C788.2,1767.7 789.4,1779.2 791.4,1781.9C793.4,1784.7 796.5,1779.6 798.5,1779.6C800.5,1779.6 801.7,1782.3 803.3,1781.9C804.8,1781.5 806.4,1775.2 808.0,1777.2C809.6,1779.2 811.2,1789.0 812.7,1793.8C814.3,1798.5 815.5,1806.0 817.5,1805.6C819.5,1805.2 822.2,1789.0 824.6,1791.4C827.0,1793.8 829.7,1813.1 831.7,1819.9C833.7,1826.6 834.7,1833.5 836.4,1831.7C838.2,1829.9 840.4,1808.8 842.4,1809.2C844.3,1809.6 846.1,1826.4 848.3,1834.1C850.5,1841.8 853.4,1850.3 855.4,1855.4C857.4,1860.5 857.8,1867.3 860.1,1864.9C862.5,1862.5 867.3,1843.2 869.6,1841.2C872.0,1839.2 872.8,1849.5 874.4,1853.0C876.0,1856.6 877.1,1862.9 879.1,1862.5C881.1,1862.1 883.9,1852.6 886.2,1850.7C888.6,1848.7 891.0,1849.9 893.3,1850.7C895.7,1851.5 898.1,1855.0 900.4,1855.4C902.8,1855.8 905.2,1854.6 907.6,1853.0C909.9,1851.5 912.5,1847.9 914.7,1845.9C916.8,1844.0 918.6,1838.0 920.6,1841.2C922.6,1844.3 924.7,1857.8 926.5,1864.9C928.3,1872.0 929.5,1883.1 931.3,1883.9C933.0,1884.6 935.0,1867.7 937.2,1869.6C939.4,1871.6 942.1,1894.9 944.3,1895.7C946.5,1896.5 948.0,1877.5 950.2,1874.4C952.4,1871.2 955.0,1876.0 957.3,1876.7C959.7,1877.5 962.1,1872.8 964.4,1879.1C966.8,1885.4 969.2,1907.6 971.6,1914.7C973.9,1921.8 976.3,1914.7 978.7,1921.8C981.0,1928.9 983.4,1958.9 985.8,1957.3C988.1,1955.8 990.5,1922.2 992.9,1912.3C995.3,1902.4 998.0,1897.6 1000.0,1898.1C1002.0,1898.6 1003.5,1912.1 1005.2,1915.4C1006.9,1918.7 1007.7,1917.9 1010.2,1917.9C1012.7,1917.9 1016.9,1916.9 1020.3,1915.4C1023.7,1913.9 1027.9,1906.2 1030.4,1909.1C1032.9,1912.0 1033.7,1926.5 1035.4,1933.0C1037.1,1939.5 1038.8,1946.5 1040.4,1948.1C1042.1,1949.8 1043.8,1943.1 1045.5,1943.1C1047.2,1943.1 1048.0,1952.3 1050.5,1948.1C1053.0,1944.0 1057.2,1921.9 1060.6,1917.9C1064.0,1913.9 1067.3,1924.0 1070.7,1924.2C1074.0,1924.4 1077.8,1919.4 1080.7,1919.2C1083.7,1919.0 1085.8,1916.0 1088.3,1923.0C1090.8,1929.9 1093.3,1960.7 1095.9,1960.7C1098.4,1960.7 1101.3,1929.9 1103.4,1923.0C1105.5,1916.0 1106.3,1918.8 1108.4,1919.2C1110.5,1919.6 1113.1,1923.8 1116.0,1925.5C1118.9,1927.2 1122.7,1929.7 1126.1,1929.3C1129.4,1928.8 1132.8,1924.4 1136.1,1923.0C1139.5,1921.5 1142.0,1921.1 1146.2,1920.4C1150.4,1919.8 1157.1,1917.9 1161.3,1919.2C1165.5,1920.4 1168.0,1924.4 1171.4,1928.0C1174.8,1931.6 1178.1,1940.2 1181.5,1940.6C1184.8,1941.0 1188.4,1926.7 1191.6,1930.5C1194.7,1934.3 1197.4,1962.8 1200.4,1963.3C1203.3,1963.7 1206.0,1937.2 1209.2,1933.0C1212.3,1928.8 1215.9,1936.4 1219.3,1938.1C1222.6,1939.8 1225.6,1942.3 1229.3,1943.1C1233.1,1944.0 1237.3,1943.1 1241.9,1943.1C1246.5,1943.1 1252.4,1943.5 1257.0,1943.1C1261.7,1942.7 1265.4,1940.6 1269.6,1940.6C1273.8,1940.6 1279.3,1939.8 1282.2,1943.1C1285.2,1946.5 1285.4,1952.6 1287.3,1960.7C1289.1,1968.9 1291.2,1989.7 1293.6,1992.2C1295.9,1994.7 1299.9,1978.6 1301.1,1975.9" fill="none" stroke="#00AC50" stroke-width="2.5" stroke-linejoin="round" stroke-linecap="round"/>
<path d="M123.1,1917.9C124.1,1918.3 127.3,1919.3 129.3,1920.2C131.4,1921.1 133.7,1923.6 135.6,1923.3C137.4,1923.1 138.7,1920.1 140.2,1918.7C141.8,1917.2 143.1,1915.3 144.9,1914.8C146.7,1914.3 149.0,1915.9 151.1,1915.6C153.2,1915.2 155.3,1912.7 157.3,1912.4C159.4,1912.2 161.5,1913.2 163.6,1914.0C165.6,1914.8 167.4,1917.1 169.8,1917.1C172.1,1917.1 175.2,1914.0 177.6,1914.0C179.9,1914.0 181.4,1916.9 183.8,1917.1C186.1,1917.4 189.0,1916.1 191.6,1915.6C194.1,1915.0 196.7,1913.5 199.3,1914.0C201.9,1914.5 205.0,1919.2 207.1,1918.7C209.2,1918.1 209.7,1912.4 211.8,1910.9C213.9,1909.3 217.2,1910.4 219.6,1909.3C221.9,1908.3 223.7,1906.2 225.8,1904.7C227.9,1903.1 229.9,1901.6 232.0,1900.0C234.1,1898.4 236.4,1896.9 238.2,1895.3C240.0,1893.8 241.1,1893.5 242.9,1890.7C244.7,1887.8 246.8,1881.9 249.1,1878.2C251.4,1874.6 254.8,1872.3 256.9,1868.9C259.0,1865.5 260.0,1861.4 261.6,1858.0C263.1,1854.6 264.7,1850.2 266.2,1848.7C267.8,1847.1 269.3,1850.0 270.9,1848.7C272.4,1847.4 273.7,1843.7 275.6,1840.9C277.4,1838.0 279.7,1832.9 281.8,1831.6C283.9,1830.3 285.9,1835.2 288.0,1833.1C290.1,1831.0 292.1,1823.5 294.2,1819.1C296.3,1814.7 298.4,1810.0 300.4,1806.7C302.5,1803.3 304.6,1802.5 306.7,1798.9C308.7,1795.3 310.8,1791.4 312.9,1784.9C315.0,1778.4 317.9,1764.9 319.1,1760.0C320.3,1755.1 318.7,1760.7 320.0,1755.6C321.3,1750.4 324.1,1737.4 326.7,1728.9C329.3,1720.4 332.6,1711.5 335.6,1704.4C338.5,1697.4 341.9,1693.0 344.4,1686.7C347.0,1680.4 348.9,1672.2 351.1,1666.7C353.3,1661.1 355.6,1657.8 357.8,1653.3C360.0,1648.9 362.2,1643.7 364.4,1640.0C366.7,1636.3 368.9,1635.2 371.1,1631.1C373.3,1627.0 375.7,1620.4 377.8,1615.6C379.8,1610.7 381.5,1605.6 383.3,1602.2C385.2,1598.9 386.9,1599.3 388.9,1595.6C390.9,1591.9 393.3,1584.1 395.6,1580.0C397.8,1575.9 400.0,1573.3 402.2,1571.1C404.4,1568.9 406.7,1568.9 408.9,1566.7C411.1,1564.4 413.7,1560.4 415.6,1557.8C417.4,1555.2 418.1,1552.2 420.0,1551.1C421.9,1550.0 424.1,1552.2 426.7,1551.1C429.3,1550.0 432.6,1547.0 435.6,1544.4C438.5,1541.9 441.9,1538.0 444.4,1535.6C447.0,1533.1 448.9,1530.7 451.1,1530.0C453.3,1529.3 455.2,1532.0 457.8,1531.1C460.4,1530.2 463.7,1525.6 466.7,1524.4C469.6,1523.3 472.6,1525.2 475.6,1524.4C478.5,1523.7 481.5,1520.9 484.4,1520.0C487.4,1519.1 490.4,1518.9 493.3,1518.9C496.3,1518.9 499.6,1519.4 502.2,1520.0C504.8,1520.6 506.7,1521.9 508.9,1522.2C511.1,1522.6 513.0,1521.3 515.6,1522.2C518.1,1523.1 521.5,1525.6 524.4,1527.8C527.4,1530.0 530.4,1533.3 533.3,1535.6C536.3,1537.8 538.9,1540.0 542.2,1541.1C545.6,1542.2 550.4,1541.1 553.3,1542.2C556.3,1543.3 557.4,1545.0 560.0,1547.8C562.6,1550.6 565.9,1555.7 568.9,1558.9C571.9,1562.0 574.4,1563.5 577.8,1566.7C581.1,1569.8 585.2,1573.0 588.9,1577.8C592.6,1582.6 596.7,1589.6 600.0,1595.6C603.3,1601.5 605.9,1607.8 608.9,1613.3C611.9,1618.9 614.8,1623.7 617.8,1628.9C620.7,1634.1 623.7,1638.5 626.7,1644.4C629.6,1650.4 633.0,1658.1 635.6,1664.4C638.1,1670.7 640.4,1676.3 642.2,1682.2C644.1,1688.1 644.8,1695.2 646.7,1700.0C648.5,1704.8 650.7,1709.4 653.3,1711.1C655.9,1712.8 659.6,1708.5 662.2,1710.0C664.8,1711.5 666.3,1715.7 668.9,1720.0C671.5,1724.3 674.4,1730.4 677.8,1735.6C681.1,1740.7 685.2,1746.3 688.9,1751.1C692.6,1755.9 696.7,1759.7 700.0,1764.4C703.3,1769.2 705.1,1775.1 708.4,1779.6C711.8,1784.0 716.0,1787.9 720.3,1791.4C724.6,1795.0 729.8,1797.7 734.5,1800.9C739.3,1804.0 744.4,1807.8 748.7,1810.4C753.1,1812.9 756.2,1814.3 760.6,1816.3C764.9,1818.3 770.9,1820.0 774.8,1822.2C778.8,1824.4 781.1,1828.0 784.3,1829.3C787.5,1830.7 790.6,1829.9 793.8,1830.5C796.9,1831.1 800.1,1831.9 803.3,1832.9C806.4,1833.9 809.6,1835.5 812.7,1836.4C815.9,1837.4 819.1,1838.6 822.2,1838.8C825.4,1839.0 828.5,1836.8 831.7,1837.6C834.9,1838.4 838.4,1841.8 841.2,1843.6C844.0,1845.3 845.5,1847.1 848.3,1848.3C851.1,1849.5 854.6,1850.5 857.8,1850.7C860.9,1850.9 864.1,1848.7 867.3,1849.5C870.4,1850.3 873.2,1854.0 876.7,1855.4C880.3,1856.8 885.0,1857.0 888.6,1857.8C892.1,1858.6 894.9,1857.8 898.1,1860.1C901.2,1862.5 904.8,1867.7 907.6,1872.0C910.3,1876.3 912.3,1885.4 914.7,1886.2C917.0,1887.0 919.4,1878.9 921.8,1876.7C924.1,1874.6 925.7,1873.6 928.9,1873.2C932.0,1872.8 936.8,1874.2 940.7,1874.4C944.7,1874.6 948.6,1874.0 952.6,1874.4C956.5,1874.8 960.9,1876.7 964.4,1876.7C968.0,1876.7 971.2,1873.6 973.9,1874.4C976.7,1875.2 978.7,1880.7 981.0,1881.5C983.4,1882.3 985.0,1879.1 988.1,1879.1C991.3,1879.1 996.7,1880.7 1000.0,1881.5C1003.3,1882.3 1004.7,1883.7 1007.7,1883.9C1010.7,1884.1 1014.0,1882.5 1017.8,1882.7C1021.6,1882.9 1026.6,1882.7 1030.4,1885.2C1034.1,1887.7 1037.1,1896.5 1040.4,1897.8C1043.8,1899.0 1047.2,1893.2 1050.5,1892.7C1053.9,1892.3 1056.8,1894.4 1060.6,1895.3C1064.4,1896.1 1069.0,1896.7 1073.2,1897.8C1077.4,1898.8 1081.6,1900.5 1085.8,1901.6C1090.0,1902.6 1094.2,1903.0 1098.4,1904.1C1102.6,1905.1 1106.3,1906.2 1111.0,1907.9C1115.6,1909.5 1121.9,1913.5 1126.1,1914.1C1130.3,1914.8 1132.0,1911.4 1136.1,1911.6C1140.3,1911.8 1146.6,1914.4 1151.3,1915.4C1155.9,1916.5 1159.2,1917.3 1163.9,1917.9C1168.5,1918.6 1173.9,1918.8 1179.0,1919.2C1184.0,1919.6 1189.5,1919.4 1194.1,1920.4C1198.7,1921.5 1202.9,1923.0 1206.7,1925.5C1210.4,1928.0 1213.0,1932.6 1216.7,1935.6C1220.5,1938.5 1224.7,1942.7 1229.3,1943.1C1234.0,1943.5 1239.8,1938.5 1244.4,1938.1C1249.1,1937.7 1252.8,1939.8 1257.0,1940.6C1261.2,1941.4 1265.4,1941.9 1269.6,1943.1C1273.8,1944.4 1277.0,1946.9 1282.2,1948.1C1287.5,1949.4 1298.0,1950.2 1301.1,1950.7" fill="none" stroke="#0868BA" stroke-width="2.5" stroke-linejoin="round" stroke-linecap="round"/>
<path d="M123.1,1934.2C124.1,1934.5 127.3,1935.0 129.3,1935.8C131.4,1936.6 133.5,1937.6 135.6,1938.9C137.6,1940.2 140.0,1943.3 141.8,1943.6C143.6,1943.8 144.9,1941.0 146.4,1940.4C148.0,1939.9 149.3,1940.2 151.1,1940.4C152.9,1940.7 155.3,1941.1 157.3,1942.0C159.4,1942.9 161.5,1946.7 163.6,1945.9C165.6,1945.1 167.7,1939.5 169.8,1937.3C171.9,1935.1 173.9,1933.7 176.0,1932.7C178.1,1931.6 180.1,1930.9 182.2,1931.1C184.3,1931.4 186.6,1933.2 188.4,1934.2C190.3,1935.3 191.3,1937.6 193.1,1937.3C194.9,1937.1 197.5,1932.7 199.3,1932.7C201.1,1932.7 202.4,1933.4 204.0,1937.3C205.6,1941.2 207.4,1953.4 208.7,1956.0C210.0,1958.6 210.5,1957.8 211.8,1952.9C213.1,1948.0 214.9,1932.9 216.4,1926.4C218.0,1920.0 219.3,1917.9 221.1,1914.0C222.9,1910.1 225.0,1906.5 227.3,1903.1C229.7,1899.7 232.8,1895.6 235.1,1893.8C237.4,1892.0 239.5,1893.5 241.3,1892.2C243.1,1890.9 244.4,1888.6 246.0,1886.0C247.6,1883.4 248.9,1879.8 250.7,1876.7C252.5,1873.6 255.1,1871.2 256.9,1867.3C258.7,1863.4 260.0,1859.3 261.6,1853.3C263.1,1847.4 264.7,1837.3 266.2,1831.6C267.8,1825.9 269.1,1823.3 270.9,1819.1C272.7,1815.0 275.3,1811.3 277.1,1806.7C278.9,1802.0 280.2,1795.5 281.8,1791.1C283.3,1786.7 284.6,1783.3 286.4,1780.2C288.3,1777.1 290.9,1774.8 292.7,1772.4C294.5,1770.1 296.1,1768.3 297.3,1766.2C298.6,1764.1 298.4,1764.0 300.0,1760.0C301.6,1756.0 304.4,1750.0 306.7,1742.2C308.9,1734.4 311.5,1719.3 313.3,1713.3C315.2,1707.4 315.9,1707.4 317.8,1706.7C319.6,1705.9 322.2,1710.4 324.4,1708.9C326.7,1707.4 329.1,1700.2 331.1,1697.8C333.1,1695.4 334.4,1693.9 336.7,1694.4C338.9,1695.0 342.0,1699.8 344.4,1701.1C346.9,1702.4 348.9,1702.0 351.1,1702.2C353.3,1702.4 355.9,1703.0 357.8,1702.2C359.6,1701.5 360.4,1700.4 362.2,1697.8C364.1,1695.2 366.3,1689.6 368.9,1686.7C371.5,1683.7 375.6,1683.3 377.8,1680.0C380.0,1676.7 380.7,1670.4 382.2,1666.7C383.7,1663.0 384.4,1658.9 386.7,1657.8C388.9,1656.7 392.8,1660.4 395.6,1660.0C398.3,1659.6 400.7,1655.6 403.3,1655.6C405.9,1655.6 408.3,1659.8 411.1,1660.0C413.9,1660.2 418.1,1657.8 420.0,1656.7C421.9,1655.6 420.4,1656.1 422.2,1653.3C424.1,1650.6 428.1,1643.5 431.1,1640.0C434.1,1636.5 437.0,1635.6 440.0,1632.2C443.0,1628.9 445.6,1622.8 448.9,1620.0C452.2,1617.2 456.7,1617.0 460.0,1615.6C463.3,1614.1 465.9,1612.6 468.9,1611.1C471.9,1609.6 474.8,1608.5 477.8,1606.7C480.7,1604.8 484.1,1598.1 486.7,1600.0C489.3,1601.9 490.7,1615.6 493.3,1617.8C495.9,1620.0 499.6,1612.6 502.2,1613.3C504.8,1614.1 506.3,1619.8 508.9,1622.2C511.5,1624.6 514.8,1628.1 517.8,1627.8C520.7,1627.4 523.3,1623.5 526.7,1620.0C530.0,1616.5 534.8,1610.0 537.8,1606.7C540.7,1603.3 541.9,1602.2 544.4,1600.0C547.0,1597.8 550.4,1593.0 553.3,1593.3C556.3,1593.7 558.9,1599.6 562.2,1602.2C565.6,1604.8 569.6,1608.0 573.3,1608.9C577.0,1609.8 581.5,1607.0 584.4,1607.8C587.4,1608.5 588.5,1609.4 591.1,1613.3C593.7,1617.2 597.0,1625.2 600.0,1631.1C603.0,1637.0 606.3,1643.3 608.9,1648.9C611.5,1654.4 613.3,1659.3 615.6,1664.4C617.8,1669.6 620.0,1676.7 622.2,1680.0C624.4,1683.3 625.9,1683.3 628.9,1684.4C631.9,1685.6 636.7,1688.1 640.0,1686.7C643.3,1685.2 645.9,1678.9 648.9,1675.6C651.9,1672.2 655.2,1668.3 657.8,1666.7C660.4,1665.0 661.9,1664.8 664.4,1665.6C667.0,1666.3 670.4,1668.7 673.3,1671.1C676.3,1673.5 679.3,1676.7 682.2,1680.0C685.2,1683.3 688.1,1688.9 691.1,1691.1C694.1,1693.3 697.9,1692.0 700.0,1693.3C702.1,1694.6 701.1,1697.2 703.7,1699.0C706.3,1700.7 711.6,1701.3 715.6,1703.7C719.5,1706.1 723.5,1709.6 727.4,1713.2C731.4,1716.7 735.3,1721.9 739.3,1725.0C743.2,1728.2 747.2,1731.6 751.1,1732.1C755.1,1732.7 759.8,1727.8 763.0,1728.6C766.1,1729.4 767.3,1733.5 770.1,1736.9C772.8,1740.2 776.4,1744.8 779.6,1748.7C782.7,1752.7 785.9,1757.4 789.0,1760.6C792.2,1763.8 795.4,1765.3 798.5,1767.7C801.7,1770.1 804.0,1773.0 808.0,1774.8C812.0,1776.6 818.3,1776.0 822.2,1778.4C826.2,1780.7 827.8,1784.9 831.7,1789.0C835.7,1793.2 841.2,1799.7 845.9,1803.3C850.7,1806.8 856.2,1808.0 860.1,1810.4C864.1,1812.7 866.1,1814.7 869.6,1817.5C873.2,1820.2 877.5,1824.2 881.5,1827.0C885.4,1829.7 889.4,1832.3 893.3,1834.1C897.3,1835.9 901.2,1836.0 905.2,1837.6C909.1,1839.2 912.7,1841.8 917.0,1843.6C921.4,1845.3 927.3,1846.7 931.3,1848.3C935.2,1849.9 937.2,1850.7 940.7,1853.0C944.3,1855.4 948.6,1859.4 952.6,1862.5C956.5,1865.7 960.5,1868.8 964.4,1872.0C968.4,1875.2 972.3,1879.1 976.3,1881.5C980.2,1883.9 984.2,1885.2 988.1,1886.2C992.1,1887.2 996.3,1887.0 1000.0,1887.4C1003.7,1887.9 1006.8,1887.2 1010.2,1889.0C1013.6,1890.7 1016.9,1894.8 1020.3,1897.8C1023.7,1900.7 1026.2,1904.7 1030.4,1906.6C1034.6,1908.5 1040.4,1908.5 1045.5,1909.1C1050.5,1909.7 1055.6,1909.7 1060.6,1910.4C1065.6,1911.0 1071.5,1911.2 1075.7,1912.9C1079.9,1914.6 1082.0,1918.3 1085.8,1920.4C1089.6,1922.5 1094.2,1924.0 1098.4,1925.5C1102.6,1927.0 1107.2,1928.8 1111.0,1929.3C1114.7,1929.7 1117.7,1928.4 1121.0,1928.0C1124.4,1927.6 1127.8,1925.9 1131.1,1926.7C1134.5,1927.6 1137.8,1930.3 1141.2,1933.0C1144.5,1935.8 1148.5,1939.3 1151.3,1943.1C1154.0,1946.9 1155.0,1956.1 1157.6,1955.7C1160.1,1955.3 1163.2,1942.9 1166.4,1940.6C1169.5,1938.3 1172.7,1941.2 1176.4,1941.9C1180.2,1942.5 1184.8,1943.3 1189.0,1944.4C1193.2,1945.4 1197.4,1947.1 1201.6,1948.1C1205.8,1949.2 1210.0,1949.8 1214.2,1950.7C1218.4,1951.5 1223.5,1953.2 1226.8,1953.2C1230.2,1953.2 1231.6,1947.1 1234.4,1950.7C1237.1,1954.2 1239.8,1973.8 1243.2,1974.6C1246.5,1975.4 1251.0,1958.4 1254.5,1955.7C1258.1,1953.0 1260.8,1957.4 1264.6,1958.2C1268.4,1959.1 1273.4,1959.5 1277.2,1960.7C1281.0,1962.0 1283.3,1965.1 1287.3,1965.8C1291.2,1966.4 1298.8,1964.7 1301.1,1964.5" fill="none" stroke="#FFC000" stroke-width="2.5" stroke-linejoin="round" stroke-linecap="round"/>
<path d="M123.1,1921.8C124.1,1921.8 127.3,1921.3 129.3,1921.8C131.4,1922.3 133.6,1923.3 135.6,1924.9C137.5,1926.4 139.2,1931.1 141.0,1931.1C142.8,1931.1 144.2,1926.4 146.4,1924.9C148.6,1923.3 151.9,1922.6 154.2,1921.8C156.6,1921.0 158.6,1921.0 160.4,1920.2C162.3,1919.4 163.3,1917.1 165.1,1917.1C166.9,1917.1 169.3,1920.0 171.3,1920.2C173.4,1920.5 175.5,1918.4 177.6,1918.7C179.6,1918.9 181.7,1921.0 183.8,1921.8C185.9,1922.6 188.2,1923.9 190.0,1923.3C191.8,1922.8 192.9,1920.7 194.7,1918.7C196.5,1916.6 198.8,1911.9 200.9,1910.9C203.0,1909.9 204.8,1911.9 207.1,1912.4C209.4,1913.0 212.3,1913.5 214.9,1914.0C217.5,1914.5 220.3,1915.3 222.7,1915.6C225.0,1915.8 226.8,1916.1 228.9,1915.6C231.0,1915.0 233.0,1913.4 235.1,1912.4C237.2,1911.5 239.3,1912.2 241.3,1910.1C243.4,1908.0 245.5,1903.5 247.6,1900.0C249.6,1896.5 251.7,1893.3 253.8,1889.1C255.9,1885.0 257.9,1880.3 260.0,1875.1C262.1,1869.9 264.1,1863.4 266.2,1858.0C268.3,1852.6 270.4,1847.6 272.4,1842.4C274.5,1837.3 276.6,1832.3 278.7,1826.9C280.7,1821.4 282.8,1814.4 284.9,1809.8C287.0,1805.1 289.0,1802.8 291.1,1798.9C293.2,1795.0 295.3,1790.6 297.3,1786.4C299.4,1782.3 301.7,1778.4 303.6,1774.0C305.4,1769.6 306.6,1765.7 308.2,1760.0C309.9,1754.3 311.4,1746.7 313.3,1740.0C315.3,1733.3 317.8,1725.9 320.0,1720.0C322.2,1714.1 324.4,1710.0 326.7,1704.4C328.9,1698.9 331.1,1691.9 333.3,1686.7C335.6,1681.5 337.8,1677.4 340.0,1673.3C342.2,1669.3 344.4,1665.2 346.7,1662.2C348.9,1659.3 351.1,1657.4 353.3,1655.6C355.6,1653.7 357.8,1653.7 360.0,1651.1C362.2,1648.5 364.4,1642.6 366.7,1640.0C368.9,1637.4 370.7,1637.2 373.3,1635.6C375.9,1633.9 379.6,1631.5 382.2,1630.0C384.8,1628.5 386.7,1627.6 388.9,1626.7C391.1,1625.7 393.5,1625.6 395.6,1624.4C397.6,1623.3 398.9,1619.4 401.1,1620.0C403.3,1620.6 406.5,1626.9 408.9,1627.8C411.3,1628.7 413.7,1626.1 415.6,1625.6C417.4,1625.0 418.5,1624.4 420.0,1624.4C421.5,1624.4 422.2,1625.7 424.4,1625.6C426.7,1625.4 430.4,1623.0 433.3,1623.3C436.3,1623.7 439.3,1627.2 442.2,1627.8C445.2,1628.3 448.5,1626.1 451.1,1626.7C453.7,1627.2 455.6,1630.0 457.8,1631.1C460.0,1632.2 462.2,1633.1 464.4,1633.3C466.7,1633.5 468.9,1632.2 471.1,1632.2C473.3,1632.2 475.6,1633.9 477.8,1633.3C480.0,1632.8 481.9,1630.0 484.4,1628.9C487.0,1627.8 490.4,1626.3 493.3,1626.7C496.3,1627.0 499.3,1629.8 502.2,1631.1C505.2,1632.4 508.1,1632.6 511.1,1634.4C514.1,1636.3 517.0,1640.2 520.0,1642.2C523.0,1644.3 525.9,1644.8 528.9,1646.7C531.9,1648.5 534.8,1651.1 537.8,1653.3C540.7,1655.6 543.7,1658.9 546.7,1660.0C549.6,1661.1 552.6,1660.0 555.6,1660.0C558.5,1660.0 561.5,1659.3 564.4,1660.0C567.4,1660.7 570.4,1662.2 573.3,1664.4C576.3,1666.7 579.3,1670.4 582.2,1673.3C585.2,1676.3 588.1,1678.9 591.1,1682.2C594.1,1685.6 597.0,1688.5 600.0,1693.3C603.0,1698.1 605.9,1705.6 608.9,1711.1C611.9,1716.7 614.8,1721.5 617.8,1726.7C620.7,1731.9 623.7,1736.3 626.7,1742.2C629.6,1748.1 632.6,1755.6 635.6,1762.2C638.5,1768.9 641.5,1775.9 644.4,1782.2C647.4,1788.5 647.4,1789.8 653.3,1800.0C659.3,1810.2 674.0,1833.1 680.0,1843.6C686.0,1854.0 686.3,1857.4 689.5,1862.5C692.6,1867.7 695.8,1870.0 699.0,1874.4C702.1,1878.7 704.9,1884.2 708.4,1888.6C712.0,1892.9 716.3,1896.5 720.3,1900.4C724.2,1904.4 728.6,1908.5 732.1,1912.3C735.7,1916.0 738.5,1920.8 741.6,1923.0C744.8,1925.1 748.0,1924.3 751.1,1925.3C754.3,1926.3 756.6,1927.9 760.6,1928.9C764.5,1929.9 770.9,1930.1 774.8,1931.3C778.8,1932.4 780.7,1934.0 784.3,1936.0C787.9,1938.0 792.2,1940.9 796.1,1943.1C800.1,1945.3 804.0,1947.1 808.0,1949.0C812.0,1951.0 815.9,1953.6 819.9,1955.0C823.8,1956.3 827.4,1956.9 831.7,1957.3C836.0,1957.7 841.2,1957.1 845.9,1957.3C850.7,1957.5 856.2,1958.1 860.1,1958.5C864.1,1958.9 866.1,1958.9 869.6,1959.7C873.2,1960.5 877.9,1963.3 881.5,1963.3C885.0,1963.3 887.4,1959.7 891.0,1959.7C894.5,1959.7 898.5,1963.1 902.8,1963.3C907.2,1963.5 912.7,1961.1 917.0,1960.9C921.4,1960.7 924.9,1961.3 928.9,1962.1C932.8,1962.9 936.8,1964.8 940.7,1965.6C944.7,1966.4 948.6,1966.6 952.6,1966.8C956.5,1967.0 960.5,1967.6 964.4,1966.8C968.4,1966.0 972.3,1963.3 976.3,1962.1C980.2,1960.9 984.2,1960.1 988.1,1959.7C992.1,1959.3 996.3,1959.7 1000.0,1959.7C1003.7,1959.7 1006.4,1958.9 1010.2,1959.5C1014.0,1960.1 1018.6,1961.8 1022.8,1963.3C1027.0,1964.7 1031.6,1967.0 1035.4,1968.3C1039.2,1969.6 1042.1,1969.6 1045.5,1970.8C1048.8,1972.1 1051.8,1975.0 1055.6,1975.9C1059.3,1976.7 1064.0,1975.9 1068.1,1975.9C1072.3,1975.9 1076.1,1975.2 1080.7,1975.9C1085.4,1976.5 1090.8,1979.6 1095.9,1979.6C1100.9,1979.6 1105.9,1977.3 1111.0,1975.9C1116.0,1974.4 1121.0,1971.7 1126.1,1970.8C1131.1,1970.0 1136.1,1970.0 1141.2,1970.8C1146.2,1971.7 1152.1,1974.6 1156.3,1975.9C1160.5,1977.1 1163.4,1977.5 1166.4,1978.4C1169.3,1979.2 1171.0,1981.1 1173.9,1980.9C1176.9,1980.7 1179.8,1977.3 1184.0,1977.1C1188.2,1976.9 1194.5,1978.8 1199.1,1979.6C1203.7,1980.5 1207.1,1981.7 1211.7,1982.1C1216.3,1982.6 1221.8,1981.7 1226.8,1982.1C1231.9,1982.6 1237.3,1985.1 1241.9,1984.7C1246.5,1984.2 1250.7,1980.7 1254.5,1979.6C1258.3,1978.6 1260.4,1977.7 1264.6,1978.4C1268.8,1979.0 1273.6,1981.5 1279.7,1983.4C1285.8,1985.3 1297.5,1988.7 1301.1,1989.7" fill="none" stroke="#C00000" stroke-width="2.5" stroke-linejoin="round" stroke-linecap="round"/>
<line x1="121.9" y1="1484.4" x2="121.9" y2="2143.2" stroke="#000" stroke-width="2.2"/>
<line x1="121.9" y1="1923.6" x2="1300.4" y2="1923.6" stroke="#000" stroke-width="2.2"/>
</svg></body></html>
